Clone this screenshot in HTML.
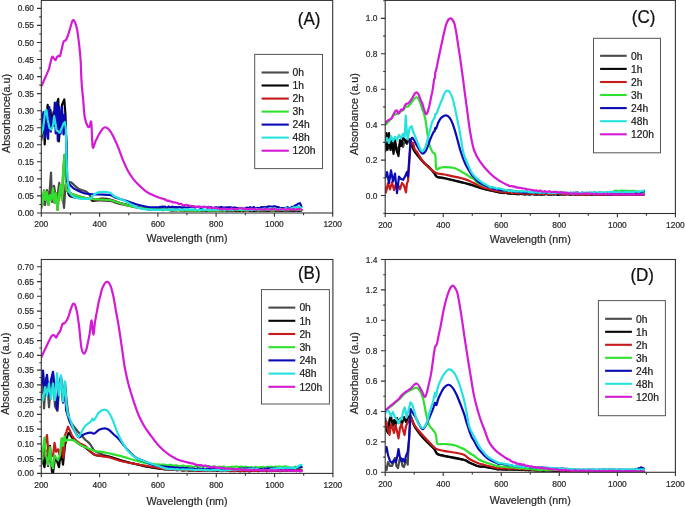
<!DOCTYPE html>
<html><head><meta charset="utf-8"><style>
html,body{margin:0;padding:0;background:#fff;width:685px;height:507px;overflow:hidden}
svg{display:block;filter:blur(0.3px)}
text{font-family:"Liberation Sans",sans-serif;stroke-width:0.22px}
</style></head><body>
<svg width="685" height="507" viewBox="0 0 685 507">
<rect width="685" height="507" fill="#fff"/>
<clipPath id="clipA"><rect x="41.3" y="0.4" width="291.4" height="212.6"/></clipPath>
<g clip-path="url(#clipA)" fill="none" stroke-width="2.2" stroke-linejoin="round" stroke-linecap="round">
<path d="M41.3,208.0 L43.0,200.0 L45.0,205.0 L47.0,190.0 L49.0,200.0 L51.0,172.5 L52.0,202.0 L53.0,190.0 L54.0,185.8 L55.5,195.0 L57.0,200.0 L59.2,182.8 L60.5,195.0 L62.0,190.0 L64.0,208.0 L65.5,185.0 L67.0,181.0" stroke="#4a4a4a"/>
<path d="M67.0,181.0 C67.3,181.2 68.2,181.7 69.0,182.0 C69.8,182.3 70.2,181.7 71.8,182.8 C73.4,183.9 75.8,187.1 78.4,188.7 C81.0,190.3 84.8,190.5 87.3,192.4 C89.8,194.3 91.1,198.7 93.2,200.0 C95.3,201.3 97.2,200.3 100.0,200.5 C102.8,200.7 106.7,200.4 110.0,201.0 C113.3,201.6 116.7,203.2 120.0,204.0 C123.3,204.8 125.0,205.2 130.0,206.0 C135.0,206.8 146.7,208.5 150.0,209.0" stroke="#4a4a4a"/>
<path d="M150.0,208.8 L151.2,208.7 L152.4,209.2 L153.6,208.8 L154.8,209.2 L156.0,209.1 L157.2,208.9 L158.4,209.4 L159.6,209.0 L160.8,209.4 L162.0,209.1 L163.2,209.2 L164.4,209.6 L165.6,210.0 L166.8,209.4 L168.0,209.5 L169.2,209.9 L170.4,210.3 L171.6,210.0 L172.8,209.9 L174.0,210.5 L175.2,209.7 L176.4,210.5 L177.6,210.0 L178.8,209.9 L180.0,210.0 L181.2,210.1 L182.4,210.6 L183.6,210.0 L184.8,210.4 L186.1,210.5 L187.3,210.2 L188.5,210.4 L189.7,210.0 L190.9,210.0 L192.1,210.1 L193.3,210.5 L194.5,210.3 L195.8,210.2 L197.0,210.5 L198.2,210.3 L199.4,210.2 L200.6,210.7 L201.8,210.6 L203.0,210.2 L204.2,210.5 L205.5,210.4 L206.7,210.8 L207.9,210.6 L209.1,210.3 L210.3,210.9 L211.5,210.1 L212.7,210.4 L213.9,210.7 L215.2,210.2 L216.4,210.5 L217.6,210.1 L218.8,210.6 L220.0,210.7 L221.2,210.6 L222.4,210.8 L223.6,210.3 L224.8,210.7 L226.1,210.6 L227.3,210.6 L228.5,210.5 L229.7,210.8 L230.9,210.9 L232.1,210.5 L233.3,210.6 L234.5,210.1 L235.8,210.7 L237.0,210.6 L238.2,210.9 L239.4,210.8 L240.6,210.3 L241.8,210.4 L243.0,210.7 L244.2,210.1 L245.5,210.5 L246.7,210.2 L247.9,210.2 L249.1,210.1 L250.3,210.7 L251.5,210.2 L252.7,210.3 L253.9,210.4 L255.2,210.8 L256.4,210.1 L257.6,210.5 L258.8,210.5 L260.0,210.8 L261.2,210.8 L262.4,210.8 L263.7,210.3 L264.9,210.4 L266.1,210.4 L267.3,210.8 L268.5,210.9 L269.7,210.2 L271.0,210.2 L272.2,210.3 L273.4,210.3 L274.6,210.5 L275.8,210.6 L277.0,210.3 L278.3,210.1 L279.5,210.4 L280.7,210.4 L281.9,210.6 L283.1,210.9 L284.4,210.7 L285.6,210.5 L286.8,210.6 L288.0,210.7 L289.2,210.1 L290.4,210.9 L291.7,210.8 L292.9,210.8 L294.1,210.8 L295.3,210.4 L296.5,210.4 L297.7,210.1 L299.0,210.6 L300.2,210.1 L301.4,210.5" stroke="#4a4a4a"/>
<path d="M41.3,140.0 L42.5,130.0 L44.0,115.0 L44.7,144.4 L46.0,120.0 L47.7,104.8 L49.0,120.0 L50.5,110.0 L51.8,127.9 L53.5,112.0 L55.0,125.0 L56.5,105.0 L58.3,98.9 L58.9,141.5 L60.5,120.0 L62.0,105.0 L64.3,99.5 L65.5,115.0 L66.5,150.0 L67.5,190.0" stroke="#050505"/>
<path d="M67.5,190.0 C67.9,191.0 67.9,194.7 70.0,196.0 C72.1,197.3 76.7,197.5 80.0,198.0 C83.3,198.5 87.8,198.5 90.0,199.0 C92.2,199.5 91.3,201.0 93.0,201.0 C94.7,201.0 97.2,199.1 100.0,198.8 C102.8,198.6 106.7,198.8 110.0,199.5 C113.3,200.2 116.7,202.0 120.0,203.0 C123.3,204.0 126.7,204.7 130.0,205.5 C133.3,206.3 136.7,207.3 140.0,208.0 C143.3,208.7 148.3,209.2 150.0,209.5" stroke="#050505"/>
<path d="M150.0,209.1 L151.2,209.3 L152.5,209.3 L153.8,209.4 L155.0,209.2 L156.2,209.2 L157.5,209.4 L158.8,209.4 L160.0,209.6 L161.2,209.4 L162.5,210.1 L163.8,209.9 L165.0,209.6 L166.2,209.7 L167.5,209.8 L168.8,209.8 L170.0,209.7 L171.2,210.3 L172.4,210.5 L173.6,210.0 L174.8,210.1 L176.0,209.7 L177.2,209.8 L178.4,210.0 L179.6,209.9 L180.8,210.5 L182.0,209.9 L183.2,209.8 L184.4,210.6 L185.6,210.3 L186.8,210.0 L188.0,210.3 L189.2,209.9 L190.4,210.4 L191.6,210.8 L192.8,210.7 L194.0,210.6 L195.2,210.2 L196.4,210.3 L197.6,210.2 L198.8,210.7 L200.0,210.5 L201.2,210.8 L202.4,210.3 L203.7,210.3 L204.9,210.8 L206.1,210.9 L207.3,210.8 L208.5,210.8 L209.8,210.8 L211.0,210.7 L212.2,210.3 L213.4,210.5 L214.6,210.4 L215.9,210.1 L217.1,210.1 L218.3,210.3 L219.5,210.3 L220.7,210.7 L222.0,210.9 L223.2,210.5 L224.4,210.9 L225.6,210.9 L226.8,210.9 L228.0,210.4 L229.3,210.2 L230.5,210.3 L231.7,210.2 L232.9,210.2 L234.1,210.6 L235.4,210.9 L236.6,210.8 L237.8,210.5 L239.0,210.6 L240.2,210.8 L241.5,210.1 L242.7,210.6 L243.9,210.9 L245.1,210.8 L246.3,210.7 L247.6,210.5 L248.8,210.2 L250.0,210.8 L251.2,210.3 L252.4,210.8 L253.7,210.9 L254.9,210.4 L256.1,210.4 L257.3,210.9 L258.6,210.7 L259.8,210.2 L261.0,210.2 L262.2,210.2 L263.5,210.9 L264.7,210.8 L265.9,210.2 L267.1,210.8 L268.4,210.9 L269.6,210.6 L270.8,210.4 L272.0,210.5 L273.3,210.2 L274.5,210.1 L275.7,210.9 L276.9,210.6 L278.1,210.5 L279.4,210.9 L280.6,210.4 L281.8,210.8 L283.0,210.8 L284.3,210.2 L285.5,210.3 L286.7,210.3 L287.9,210.3 L289.2,210.6 L290.4,210.3 L291.6,210.4 L292.8,210.2 L294.1,210.9 L295.3,210.4 L296.5,210.5 L297.7,210.6 L299.0,210.9 L300.2,210.4 L301.4,210.5" stroke="#050505"/>
<path d="M41.3,195.0 L42.5,205.0 L44.0,190.0 L45.5,200.0 L47.0,192.0 L48.5,205.0 L50.0,195.0 L51.5,200.0 L53.0,188.0 L54.5,203.0 L56.0,193.0 L57.5,210.0 L59.0,195.0 L60.5,185.0 L62.0,200.0 L63.0,175.0 L64.4,154.8 L65.5,175.0 L66.5,190.0" stroke="#c81a1a"/>
<path d="M66.5,190.0 C67.1,190.5 68.6,192.2 70.0,193.0 C71.4,193.8 71.7,194.0 75.0,195.0 C78.3,196.0 85.8,198.2 90.0,199.0 C94.2,199.8 96.7,199.3 100.0,199.5 C103.3,199.7 106.7,199.4 110.0,200.0 C113.3,200.6 116.7,202.0 120.0,203.0 C123.3,204.0 126.7,205.2 130.0,206.0 C133.3,206.8 136.7,207.5 140.0,208.0 C143.3,208.5 148.3,208.8 150.0,209.0" stroke="#c81a1a"/>
<path d="M150.0,209.4 L151.2,209.1 L152.5,209.2 L153.8,209.2 L155.0,208.8 L156.2,209.3 L157.5,209.1 L158.8,209.0 L160.0,209.8 L161.2,209.3 L162.5,209.6 L163.8,209.9 L165.0,209.8 L166.2,209.7 L167.5,209.9 L168.8,210.0 L170.0,210.3 L171.2,209.7 L172.4,210.1 L173.6,209.8 L174.8,209.9 L176.0,210.3 L177.2,210.1 L178.4,210.2 L179.6,210.4 L180.8,210.6 L182.0,210.1 L183.2,210.3 L184.4,210.2 L185.6,210.3 L186.8,210.5 L188.0,210.3 L189.2,210.3 L190.4,210.3 L191.6,210.8 L192.8,210.6 L194.0,210.7 L195.2,210.8 L196.4,210.2 L197.6,210.5 L198.8,210.9 L200.0,210.8 L201.2,210.2 L202.4,210.1 L203.7,210.4 L204.9,210.1 L206.1,210.2 L207.3,210.0 L208.5,210.6 L209.8,210.7 L211.0,210.7 L212.2,210.1 L213.4,210.6 L214.6,210.5 L215.9,210.0 L217.1,210.7 L218.3,210.7 L219.5,210.1 L220.7,210.7 L222.0,210.2 L223.2,210.3 L224.4,210.7 L225.6,210.5 L226.8,209.9 L228.0,210.2 L229.3,210.2 L230.5,210.1 L231.7,209.9 L232.9,210.0 L234.1,210.4 L235.4,209.7 L236.6,210.2 L237.8,210.1 L239.0,209.7 L240.2,209.9 L241.5,210.2 L242.7,210.1 L243.9,209.7 L245.1,210.5 L246.3,210.3 L247.6,210.4 L248.8,209.7 L250.0,209.8 L251.2,209.6 L252.4,210.2 L253.7,209.8 L254.9,209.6 L256.1,209.9 L257.3,210.3 L258.6,210.3 L259.8,209.7 L261.0,209.6 L262.2,210.3 L263.5,210.0 L264.7,210.1 L265.9,209.6 L267.1,209.5 L268.4,210.1 L269.6,209.9 L270.8,209.5 L272.0,210.3 L273.3,210.0 L274.5,210.2 L275.7,209.5 L276.9,210.2 L278.1,209.5 L279.4,210.2 L280.6,209.8 L281.8,209.7 L283.0,209.9 L284.3,210.3 L285.5,209.7 L286.7,209.5 L287.9,209.9 L289.2,209.6 L290.4,209.5 L291.6,209.5 L292.8,209.4 L294.1,209.6 L295.3,209.7 L296.5,209.6 L297.7,210.0 L299.0,209.6 L300.2,209.8 L301.4,209.8" stroke="#c81a1a"/>
<path d="M41.3,195.0 L42.5,205.0 L44.0,190.0 L45.5,200.0 L47.0,192.0 L48.5,205.0 L50.0,195.0 L51.5,200.0 L53.0,188.0 L54.5,203.0 L56.0,193.0 L57.5,210.0 L59.0,195.0 L60.5,185.0 L62.0,200.0 L63.0,175.0 L64.4,154.8 L65.5,175.0 L66.5,190.0" stroke="#2fe02f"/>
<path d="M66.5,190.0 C67.1,190.5 68.6,192.2 70.0,193.0 C71.4,193.8 71.7,194.0 75.0,195.0 C78.3,196.0 85.8,198.2 90.0,199.0 C94.2,199.8 96.7,199.3 100.0,199.5 C103.3,199.7 106.7,199.4 110.0,200.0 C113.3,200.6 116.7,202.0 120.0,203.0 C123.3,204.0 126.7,205.2 130.0,206.0 C133.3,206.8 136.7,207.5 140.0,208.0 C143.3,208.5 148.3,208.8 150.0,209.0" stroke="#2fe02f"/>
<path d="M150.0,209.4 L151.2,209.1 L152.5,209.2 L153.8,209.2 L155.0,208.8 L156.2,209.3 L157.5,209.1 L158.8,209.0 L160.0,209.8 L161.2,209.3 L162.5,209.6 L163.8,209.9 L165.0,209.8 L166.2,209.7 L167.5,209.9 L168.8,210.0 L170.0,210.3 L171.2,209.7 L172.4,210.1 L173.6,209.8 L174.8,209.9 L176.0,210.3 L177.2,210.1 L178.4,210.2 L179.6,210.4 L180.8,210.6 L182.0,210.1 L183.2,210.3 L184.4,210.2 L185.6,210.3 L186.8,210.5 L188.0,210.3 L189.2,210.3 L190.4,210.3 L191.6,210.8 L192.8,210.6 L194.0,210.7 L195.2,210.8 L196.4,210.2 L197.6,210.5 L198.8,210.9 L200.0,210.8 L201.2,210.2 L202.4,210.1 L203.7,210.4 L204.9,210.1 L206.1,210.2 L207.3,210.0 L208.5,210.6 L209.8,210.7 L211.0,210.7 L212.2,210.1 L213.4,210.6 L214.6,210.5 L215.9,210.0 L217.1,210.7 L218.3,210.7 L219.5,210.1 L220.7,210.7 L222.0,210.2 L223.2,210.3 L224.4,210.7 L225.6,210.5 L226.8,209.9 L228.0,210.2 L229.3,210.2 L230.5,210.1 L231.7,209.9 L232.9,210.0 L234.1,210.4 L235.4,209.7 L236.6,210.2 L237.8,210.1 L239.0,209.7 L240.2,209.9 L241.5,210.2 L242.7,210.1 L243.9,209.7 L245.1,210.5 L246.3,210.3 L247.6,210.4 L248.8,209.7 L250.0,209.8 L251.2,209.6 L252.4,210.2 L253.7,209.8 L254.9,209.6 L256.1,209.9 L257.3,210.3 L258.6,210.3 L259.8,209.7 L261.0,209.6 L262.2,210.3 L263.5,210.0 L264.7,210.1 L265.9,209.6 L267.1,209.5 L268.4,210.1 L269.6,209.9 L270.8,209.5 L272.0,210.3 L273.3,210.0 L274.5,210.2 L275.7,209.5 L276.9,210.2 L278.1,209.5 L279.4,210.2 L280.6,209.8 L281.8,209.7 L283.0,209.9 L284.3,210.3 L285.5,209.7 L286.7,209.5 L287.9,209.9 L289.2,209.6 L290.4,209.5 L291.6,209.5 L292.8,209.4 L294.1,209.6 L295.3,209.7 L296.5,209.6 L297.7,210.0 L299.0,209.6 L300.2,209.8 L301.4,209.8" stroke="#2fe02f"/>
<path d="M41.3,111.4 L42.6,129.0 L43.9,112.0 L45.3,137.8 L46.6,113.5 L48.1,138.9 L49.3,107.1 L50.8,131.7 L51.8,117.7 L53.4,125.9 L54.8,102.7 L55.7,133.5 L56.7,103.2 L57.8,140.6 L59.1,106.7 L60.6,133.6 L62.0,107.6 L63.5,134.5 L64.6,114.6 L66.3,140.0 L67.0,181.4" stroke="#0a0ab4"/>
<path d="M67.0,181.4 C68.2,182.6 71.1,186.7 74.0,188.7 C76.9,190.7 81.6,192.3 84.3,193.2 C87.0,194.1 87.5,193.8 90.0,194.0 C92.5,194.2 95.7,194.3 99.0,194.5 C102.3,194.7 107.3,194.5 110.0,195.0 C112.7,195.5 112.5,196.6 115.0,197.5 C117.5,198.4 121.3,199.3 125.0,200.5 C128.7,201.7 133.2,203.4 137.0,204.5 C140.8,205.6 144.2,206.5 148.0,207.0 C151.8,207.5 158.0,207.3 160.0,207.4" stroke="#0a0ab4"/>
<path d="M160.0,206.9 L161.2,207.1 L162.5,206.6 L163.8,206.9 L165.0,206.5 L166.2,207.5 L167.5,207.2 L168.8,206.6 L170.0,207.0 L171.2,207.6 L172.5,206.5 L173.8,207.5 L175.0,207.0 L176.2,207.1 L177.5,207.6 L178.8,207.0 L180.0,207.1 L181.2,207.4 L182.5,207.8 L183.8,207.0 L185.0,207.7 L186.2,207.5 L187.5,207.4 L188.8,207.1 L190.0,207.0 L191.2,206.6 L192.5,206.7 L193.8,206.7 L195.0,207.6 L196.2,206.9 L197.5,206.8 L198.8,206.7 L200.0,207.8 L201.2,207.8 L202.5,207.6 L203.8,207.0 L205.0,207.0 L206.2,207.1 L207.5,207.3 L208.8,206.9 L210.0,207.4 L211.2,207.1 L212.5,208.1 L213.8,208.1 L215.0,207.6 L216.2,207.2 L217.5,208.2 L218.8,207.3 L220.0,207.4 L221.2,206.9 L222.5,207.5 L223.8,207.6 L225.0,207.7 L226.2,207.3 L227.5,207.8 L228.8,207.1 L230.0,207.5 L231.2,207.3 L232.5,207.9 L233.8,207.5 L235.0,207.5 L236.2,208.0 L237.5,208.0 L238.8,208.6 L240.0,208.6 L241.2,208.8 L242.5,208.6 L243.8,208.5 L245.0,208.6 L246.2,207.8 L247.5,207.6 L248.8,208.4 L250.0,207.1 L251.2,207.9 L252.5,207.9 L253.8,207.0 L255.0,208.2 L256.2,208.3 L257.5,207.9 L258.8,208.1 L260.0,208.2 L261.2,207.1 L262.5,207.4 L263.8,207.1 L265.0,207.4 L266.2,207.1 L267.5,206.9 L268.8,206.3 L270.0,206.5 L271.2,206.5 L272.5,206.8 L273.8,206.4 L275.0,206.3 L276.2,206.7 L277.5,207.3 L278.8,207.2 L280.0,208.5 L281.2,208.1 L282.5,208.1 L283.8,208.1 L285.0,208.2 L286.2,207.9 L287.5,207.2 L288.8,208.2 L290.0,208.1 L291.2,207.4 L292.5,206.9 L293.8,206.7 L295.0,205.4 L296.5,205.3 L298.0,203.7 L300.0,203.2 L301.4,206.5" stroke="#0a0ab4"/>
<path d="M41.3,135.0 L43.0,129.0 L45.3,110.8 L46.5,110.0 L47.7,119.7 L49.5,128.0 L51.3,129.7 L53.0,125.6 L54.2,116.1 L55.4,123.2 L56.6,130.3 L58.4,131.5 L59.6,132.7 L61.4,129.1 L63.7,123.2 L64.9,122.0 L65.9,129.1 L66.3,150.0" stroke="#26e2de"/>
<path d="M66.3,150.0 C66.4,153.3 66.7,164.5 67.0,170.0 C67.3,175.5 67.3,178.9 68.0,183.0 C68.7,187.1 69.3,192.1 71.0,194.7 C72.7,197.2 75.2,197.7 78.4,198.3 C81.6,198.9 87.7,198.8 90.2,198.3 C92.7,197.8 92.0,196.1 93.5,195.1 C95.0,194.1 96.6,192.6 99.3,192.2 C102.0,191.8 107.4,192.1 109.9,192.8 C112.4,193.5 112.0,194.9 114.5,196.3 C117.0,197.7 121.3,199.2 125.0,201.0 C128.7,202.8 132.8,206.0 136.7,207.4 C140.6,208.8 142.8,209.3 148.4,209.7 C154.0,210.0 166.4,209.5 170.0,209.5" stroke="#26e2de"/>
<path d="M170.0,209.3 L171.2,209.7 L172.4,209.2 L173.6,209.8 L174.8,210.0 L176.0,209.6 L177.2,209.5 L178.4,209.6 L179.6,209.8 L180.8,209.9 L182.0,209.7 L183.2,209.8 L184.4,209.2 L185.6,209.3 L186.8,209.4 L188.0,209.9 L189.2,209.5 L190.4,209.8 L191.6,209.2 L192.8,209.3 L194.0,209.5 L195.2,209.9 L196.4,210.0 L197.6,210.0 L198.8,209.6 L200.0,209.8 L201.2,209.8 L202.4,209.8 L203.7,209.4 L204.9,210.2 L206.1,209.5 L207.3,210.2 L208.5,210.2 L209.8,209.3 L211.0,209.7 L212.2,210.0 L213.4,210.2 L214.6,209.7 L215.9,209.5 L217.1,209.4 L218.3,210.1 L219.5,209.4 L220.7,209.8 L222.0,209.3 L223.2,209.7 L224.4,210.1 L225.6,209.3 L226.8,210.0 L228.0,209.6 L229.3,210.0 L230.5,209.8 L231.7,209.3 L232.9,210.0 L234.1,209.6 L235.4,209.1 L236.6,209.1 L237.8,209.6 L239.0,209.5 L240.2,209.4 L241.5,209.2 L242.7,209.4 L243.9,209.4 L245.1,209.9 L246.3,209.0 L247.6,209.8 L248.8,209.8 L250.0,209.1 L251.2,209.9 L252.4,209.7 L253.6,209.8 L254.8,209.2 L256.1,209.2 L257.3,209.2 L258.5,209.8 L259.7,209.3 L260.9,209.1 L262.1,209.1 L263.3,208.9 L264.5,208.7 L265.8,208.7 L267.0,209.4 L268.2,208.8 L269.4,209.5 L270.6,208.7 L271.8,208.7 L273.0,208.9 L274.2,208.6 L275.5,208.7 L276.7,209.3 L277.9,209.2 L279.1,209.1 L280.3,208.9 L281.5,209.1 L282.7,209.1 L283.9,208.7 L285.2,208.8 L286.4,208.1 L287.6,208.8 L288.8,208.5 L290.0,208.8 L291.3,208.4 L292.7,207.8 L294.0,207.3 L295.3,207.9 L296.7,206.9 L298.0,207.0 L299.7,207.1 L301.4,207.5" stroke="#26e2de"/>
<path d="M41.6,85.8 C42.2,84.5 43.8,80.8 45.0,78.0 C46.2,75.2 47.8,72.4 48.9,69.0 C50.0,65.6 51.0,59.4 51.8,57.5 C52.6,55.6 52.9,57.3 53.5,57.8 C54.1,58.2 54.8,60.3 55.4,60.2 C56.0,60.1 56.5,57.7 57.0,57.0 C57.5,56.3 58.2,56.0 58.7,55.8 C59.2,55.6 59.5,57.0 60.0,56.0 C60.5,55.0 60.9,52.4 61.5,50.0 C62.1,47.6 63.0,43.0 63.7,41.4 C64.4,39.8 65.0,41.0 65.6,40.4 C66.1,39.8 66.5,39.1 67.0,38.0 C67.5,36.9 68.0,35.3 68.6,33.5 C69.2,31.7 69.8,29.1 70.5,27.0 C71.2,24.9 71.8,21.6 72.5,20.7 C73.2,19.8 73.8,19.9 74.5,21.3 C75.2,22.7 76.2,25.3 77.0,29.0 C77.8,32.7 78.4,38.2 79.0,43.4 C79.6,48.6 80.2,54.1 80.6,60.0 C81.0,65.9 81.1,74.0 81.4,79.0 C81.7,84.0 81.9,86.5 82.2,90.0 C82.5,93.5 82.8,95.1 83.2,99.7 C83.6,104.3 84.0,113.0 84.8,117.5 C85.6,122.0 87.0,124.9 87.8,126.4 C88.6,127.9 89.1,127.1 89.7,126.4 C90.3,125.7 90.8,119.0 91.3,122.4 C91.8,125.8 92.0,143.9 92.7,147.0 C93.4,150.1 94.4,143.4 95.6,141.1 C96.8,138.8 98.4,135.3 99.6,133.3 C100.8,131.3 101.5,130.0 102.5,129.0 C103.5,128.0 104.2,126.9 105.5,127.3 C106.8,127.7 108.4,128.3 110.4,131.3 C112.4,134.3 115.2,140.2 117.3,145.1 C119.4,150.0 121.5,156.6 123.3,160.9 C125.1,165.2 126.4,168.1 128.0,171.0 C129.6,173.9 131.4,176.5 133.0,178.6 C134.6,180.7 135.3,181.6 137.5,183.8 C139.7,186.0 143.4,189.7 146.3,191.7 C149.2,193.7 151.9,194.7 155.0,196.0 C158.1,197.3 163.3,198.9 165.0,199.5" stroke="#d41ad4"/>
<path d="M165.0,199.3 L166.3,200.2 L167.5,201.0 L168.8,200.6 L170.1,201.5 L171.3,201.5 L172.6,202.3 L173.8,202.4 L175.1,202.4 L176.3,202.7 L177.6,203.0 L178.8,204.1 L180.1,203.9 L181.3,203.9 L182.5,205.0 L183.8,205.4 L185.0,205.0 L186.3,204.9 L187.5,205.3 L188.8,205.4 L190.0,206.0 L191.3,205.8 L192.5,206.1 L193.8,206.2 L195.0,206.6 L196.3,207.1 L197.5,207.0 L198.8,206.7 L200.1,206.8 L201.3,207.0 L202.6,206.9 L203.8,206.9 L205.1,206.7 L206.3,207.0 L207.6,208.0 L208.8,207.1 L210.1,207.7 L211.3,207.9 L212.6,208.3 L213.8,207.7 L215.1,207.9 L216.3,208.0 L217.5,208.3 L218.8,208.5 L220.0,209.2 L221.3,209.2 L222.5,209.4 L223.8,208.5 L225.0,208.6 L226.2,209.4 L227.5,209.6 L228.8,209.0 L230.0,209.1 L231.2,208.3 L232.5,208.7 L233.8,209.3 L235.0,209.1 L236.2,209.1 L237.5,209.2 L238.8,208.3 L240.0,208.0 L241.2,208.1 L242.5,208.7 L243.8,208.9 L245.0,209.3 L246.2,209.1 L247.5,209.1 L248.8,209.3 L250.0,208.9 L251.2,209.1 L252.5,208.6 L253.8,209.5 L255.0,208.9 L256.2,209.8 L257.5,209.5 L258.8,209.2 L260.0,209.1 L261.2,209.2 L262.5,209.6 L263.8,209.7 L265.0,209.0 L266.2,208.9 L267.5,209.5 L268.8,209.5 L270.0,209.3 L271.2,209.1 L272.5,209.5 L273.8,208.8 L275.0,209.1 L276.2,209.3 L277.5,209.9 L278.8,209.5 L280.0,209.8 L281.3,209.3 L282.5,209.0 L283.8,209.0 L285.0,209.9 L286.3,209.6 L287.6,209.1 L288.8,208.8 L290.1,209.4 L291.3,209.6 L292.6,209.3 L293.8,209.1 L295.1,209.6 L296.4,210.0 L297.6,209.1 L298.9,208.9 L300.1,209.3 L301.4,209.5" stroke="#d41ad4"/>
</g>
<rect x="41.3" y="0.4" width="291.4" height="212.6" fill="none" stroke="#333" stroke-width="1.1"/>
<text x="34.0" y="216.0" text-anchor="end" font-size="8.4" fill="#2a2a2a" stroke="#2a2a2a">0.00</text>
<text x="34.0" y="198.9" text-anchor="end" font-size="8.4" fill="#2a2a2a" stroke="#2a2a2a">0.05</text>
<text x="34.0" y="181.9" text-anchor="end" font-size="8.4" fill="#2a2a2a" stroke="#2a2a2a">0.10</text>
<text x="34.0" y="164.8" text-anchor="end" font-size="8.4" fill="#2a2a2a" stroke="#2a2a2a">0.15</text>
<text x="34.0" y="147.8" text-anchor="end" font-size="8.4" fill="#2a2a2a" stroke="#2a2a2a">0.20</text>
<text x="34.0" y="130.8" text-anchor="end" font-size="8.4" fill="#2a2a2a" stroke="#2a2a2a">0.25</text>
<text x="34.0" y="113.7" text-anchor="end" font-size="8.4" fill="#2a2a2a" stroke="#2a2a2a">0.30</text>
<text x="34.0" y="96.6" text-anchor="end" font-size="8.4" fill="#2a2a2a" stroke="#2a2a2a">0.35</text>
<text x="34.0" y="79.6" text-anchor="end" font-size="8.4" fill="#2a2a2a" stroke="#2a2a2a">0.40</text>
<text x="34.0" y="62.5" text-anchor="end" font-size="8.4" fill="#2a2a2a" stroke="#2a2a2a">0.45</text>
<text x="34.0" y="45.5" text-anchor="end" font-size="8.4" fill="#2a2a2a" stroke="#2a2a2a">0.50</text>
<text x="34.0" y="28.4" text-anchor="end" font-size="8.4" fill="#2a2a2a" stroke="#2a2a2a">0.55</text>
<text x="34.0" y="11.4" text-anchor="end" font-size="8.4" fill="#2a2a2a" stroke="#2a2a2a">0.60</text>
<text x="41.3" y="227.2" text-anchor="middle" font-size="8.4" fill="#2a2a2a" stroke="#2a2a2a">200</text>
<text x="99.6" y="227.2" text-anchor="middle" font-size="8.4" fill="#2a2a2a" stroke="#2a2a2a">400</text>
<text x="157.9" y="227.2" text-anchor="middle" font-size="8.4" fill="#2a2a2a" stroke="#2a2a2a">600</text>
<text x="216.1" y="227.2" text-anchor="middle" font-size="8.4" fill="#2a2a2a" stroke="#2a2a2a">800</text>
<text x="274.4" y="227.2" text-anchor="middle" font-size="8.4" fill="#2a2a2a" stroke="#2a2a2a">1000</text>
<text x="332.7" y="227.2" text-anchor="middle" font-size="8.4" fill="#2a2a2a" stroke="#2a2a2a">1200</text>
<path d="M37.0,213.0 H41.3 M37.0,195.9 H41.3 M37.0,178.9 H41.3 M37.0,161.8 H41.3 M37.0,144.8 H41.3 M37.0,127.8 H41.3 M37.0,110.7 H41.3 M37.0,93.6 H41.3 M37.0,76.6 H41.3 M37.0,59.5 H41.3 M37.0,42.5 H41.3 M37.0,25.4 H41.3 M37.0,8.4 H41.3 M39.3,204.5 H41.3 M39.3,187.4 H41.3 M39.3,170.4 H41.3 M39.3,153.3 H41.3 M39.3,136.3 H41.3 M39.3,119.2 H41.3 M39.3,102.2 H41.3 M39.3,85.1 H41.3 M39.3,68.1 H41.3 M39.3,51.0 H41.3 M39.3,34.0 H41.3 M39.3,16.9 H41.3 M41.3,213.0 V216.8 M70.4,213.0 V215.3 M99.6,213.0 V216.8 M128.7,213.0 V215.3 M157.9,213.0 V216.8 M187.0,213.0 V215.3 M216.1,213.0 V216.8 M245.3,213.0 V215.3 M274.4,213.0 V216.8 M303.6,213.0 V215.3 M332.7,213.0 V216.8" stroke="#333" stroke-width="1.1" fill="none"/>
<text x="187.0" y="242.0" text-anchor="middle" font-size="10.7" fill="#2a2a2a" stroke="#2a2a2a">Wavelength (nm)</text>
<text transform="translate(9.6,113.5) rotate(-90)" text-anchor="middle" font-size="10.7" fill="#2a2a2a" stroke="#2a2a2a">Absorbance(a.u)</text>
<text transform="translate(297.8,24.9) scale(1,1.04)" font-size="17" fill="#111" stroke="#111">(A)</text>
<rect x="254.7" y="54.4" width="67.8" height="114.2" fill="#fff" stroke="#555" stroke-width="1"/>
<path d="M261.6,72.5 H288.8" stroke="#4a4a4a" stroke-width="2.1"/>
<text x="292.5" y="76.2" font-size="10.3" fill="#1a1a1a" stroke="#1a1a1a">0h</text>
<path d="M261.6,85.5 H288.8" stroke="#050505" stroke-width="2.1"/>
<text x="292.5" y="89.2" font-size="10.3" fill="#1a1a1a" stroke="#1a1a1a">1h</text>
<path d="M261.6,98.6 H288.8" stroke="#c81a1a" stroke-width="2.1"/>
<text x="292.5" y="102.3" font-size="10.3" fill="#1a1a1a" stroke="#1a1a1a">2h</text>
<path d="M261.6,111.6 H288.8" stroke="#2fe02f" stroke-width="2.1"/>
<text x="292.5" y="115.3" font-size="10.3" fill="#1a1a1a" stroke="#1a1a1a">3h</text>
<path d="M261.6,124.6 H288.8" stroke="#0a0ab4" stroke-width="2.1"/>
<text x="292.5" y="128.3" font-size="10.3" fill="#1a1a1a" stroke="#1a1a1a">24h</text>
<path d="M261.6,137.6 H288.8" stroke="#26e2de" stroke-width="2.1"/>
<text x="292.5" y="141.3" font-size="10.3" fill="#1a1a1a" stroke="#1a1a1a">48h</text>
<path d="M261.6,150.7 H288.8" stroke="#d41ad4" stroke-width="2.1"/>
<text x="292.5" y="154.4" font-size="10.3" fill="#1a1a1a" stroke="#1a1a1a">120h</text>
<clipPath id="clipC"><rect x="385.2" y="0.4" width="290.2" height="213.1"/></clipPath>
<g clip-path="url(#clipC)" fill="none" stroke-width="2.2" stroke-linejoin="round" stroke-linecap="round">
<path d="M385.2,146.0 L387.0,138.0 L389.0,148.0 L391.0,139.0 L393.0,150.0 L395.0,142.0 L397.0,152.0 L399.0,146.0 L401.0,141.0 L403.0,147.0 L405.0,140.0 L407.0,144.0 L409.0,140.0" stroke="#4a4a4a"/>
<path d="M409.0,140.0 C409.3,140.5 410.1,141.1 411.0,143.0 C411.9,144.9 413.1,148.9 414.6,151.5 C416.1,154.1 418.4,156.5 420.0,158.5 C421.6,160.5 422.7,161.8 424.4,163.5 C426.1,165.2 428.4,166.8 430.0,168.5 C431.6,170.2 433.1,172.1 434.3,173.5 C435.5,174.9 435.0,176.1 437.3,177.0 C439.6,177.9 443.7,178.2 448.1,179.2 C452.5,180.2 459.6,181.9 463.9,183.0 C468.2,184.1 470.5,185.0 473.8,186.0 C477.1,187.0 479.3,187.9 483.6,189.0 C487.9,190.1 496.9,191.9 499.5,192.5" stroke="#4a4a4a"/>
<path d="M499.5,192.4 L500.7,192.8 L502.0,192.4 L503.2,193.1 L504.4,193.1 L505.7,193.0 L506.9,192.9 L508.1,193.7 L509.4,193.2 L510.6,193.7 L511.8,193.3 L513.0,193.4 L514.3,194.0 L515.5,193.7 L516.7,194.4 L518.0,194.1 L519.2,193.9 L520.4,194.0 L521.7,194.1 L522.9,194.4 L524.1,194.6 L525.3,193.9 L526.6,194.1 L527.8,194.0 L529.0,194.7 L530.2,193.9 L531.5,193.9 L532.7,193.9 L533.9,194.2 L535.1,194.6 L536.4,194.6 L537.6,194.5 L538.8,194.7 L540.0,194.7 L541.2,194.2 L542.5,194.0 L543.7,194.7 L544.9,194.6 L546.1,193.9 L547.4,194.5 L548.6,194.2 L549.8,194.2 L551.1,194.2 L552.3,194.1 L553.5,193.9 L554.7,194.2 L556.0,194.3 L557.2,194.8 L558.4,194.1 L559.6,194.8 L560.9,194.1 L562.1,194.3 L563.3,194.7 L564.5,194.7 L565.8,194.4 L567.0,194.0 L568.2,194.4 L569.4,194.3 L570.6,194.8 L571.9,194.2 L573.1,194.4 L574.3,194.8 L575.5,194.1 L576.8,194.4 L578.0,194.8 L579.2,194.7 L580.4,194.1 L581.6,194.1 L582.8,194.1 L584.0,194.9 L585.2,194.3 L586.4,194.7 L587.6,194.9 L588.8,194.4 L590.0,194.3 L591.2,194.9 L592.4,194.6 L593.6,194.3 L594.8,194.7 L596.0,194.3 L597.2,194.3 L598.4,194.1 L599.6,194.7 L600.8,194.9 L602.0,194.6 L603.2,194.9 L604.4,194.1 L605.6,194.3 L606.8,194.5 L608.0,194.9 L609.2,194.9 L610.4,194.4 L611.6,194.3 L612.8,194.4 L614.0,194.5 L615.2,194.9 L616.4,194.2 L617.6,194.8 L618.8,194.7 L620.0,194.8 L621.2,194.7 L622.4,194.6 L623.6,194.3 L624.8,194.3 L626.0,194.4 L627.2,194.8 L628.4,194.1 L629.6,194.2 L630.8,194.7 L632.0,194.3 L633.2,194.1 L634.4,194.1 L635.6,194.5 L636.8,194.3 L638.0,194.9 L639.2,194.8 L640.4,194.9 L641.6,194.3 L642.8,194.1 L644.0,194.5" stroke="#4a4a4a"/>
<path d="M385.2,151.3 L386.5,133.0 L387.5,150.0 L389.0,133.0 L390.5,150.0 L392.0,141.0 L393.5,153.9 L395.0,140.0 L396.5,150.0 L398.5,156.2 L400.0,140.0 L401.5,146.0 L403.0,138.0 L404.7,139.4 L406.5,143.0 L408.0,138.0" stroke="#050505"/>
<path d="M408.0,138.0 C408.4,138.6 409.9,140.1 410.6,141.4 C411.3,142.7 411.3,144.3 412.0,146.0 C412.7,147.7 413.3,149.3 414.6,151.3 C415.9,153.3 418.4,156.0 420.0,158.0 C421.6,160.0 422.7,161.4 424.4,163.1 C426.1,164.8 428.4,166.3 430.0,168.0 C431.6,169.7 433.1,171.5 434.3,173.0 C435.5,174.5 435.7,176.1 437.3,176.9 C438.9,177.7 439.8,177.0 444.2,178.0 C448.6,179.0 459.0,181.6 463.9,182.8 C468.8,184.1 470.5,184.5 473.8,185.5 C477.1,186.5 479.3,187.7 483.6,188.8 C487.9,190.0 496.9,191.8 499.5,192.4" stroke="#050505"/>
<path d="M499.5,192.0 L500.7,192.5 L502.0,192.8 L503.2,192.7 L504.4,192.6 L505.7,192.9 L506.9,193.1 L508.1,193.3 L509.4,193.5 L510.6,193.7 L511.8,193.6 L513.0,193.2 L514.3,194.0 L515.5,193.6 L516.7,193.9 L518.0,193.9 L519.2,194.3 L520.4,193.8 L521.7,193.9 L522.9,193.9 L524.1,193.8 L525.3,194.5 L526.6,194.2 L527.8,194.0 L529.0,194.1 L530.2,194.6 L531.5,194.2 L532.7,193.9 L533.9,194.5 L535.1,194.3 L536.4,194.7 L537.6,193.9 L538.8,194.2 L540.0,194.5 L541.2,194.6 L542.5,194.6 L543.7,193.9 L544.9,194.1 L546.1,193.9 L547.4,194.0 L548.6,194.7 L549.8,194.4 L551.1,194.7 L552.3,194.2 L553.5,194.7 L554.7,194.3 L556.0,194.1 L557.2,194.6 L558.4,194.8 L559.6,194.0 L560.9,194.5 L562.1,194.5 L563.3,194.1 L564.5,194.3 L565.8,194.1 L567.0,194.2 L568.2,194.2 L569.4,194.5 L570.6,194.6 L571.9,194.2 L573.1,194.0 L574.3,194.3 L575.5,194.6 L576.8,194.2 L578.0,194.3 L579.2,194.2 L580.4,194.8 L581.6,194.5 L582.8,194.1 L584.0,194.1 L585.2,194.4 L586.4,194.5 L587.6,194.6 L588.8,194.1 L590.0,194.2 L591.2,194.7 L592.4,194.4 L593.6,194.3 L594.8,194.3 L596.0,194.9 L597.2,194.3 L598.4,194.6 L599.6,194.4 L600.8,194.4 L602.0,194.8 L603.2,194.9 L604.4,194.4 L605.6,194.2 L606.8,194.7 L608.0,194.2 L609.2,194.1 L610.4,194.9 L611.6,194.4 L612.8,194.8 L614.0,194.4 L615.2,194.8 L616.4,194.5 L617.6,194.2 L618.8,194.1 L620.0,194.5 L621.2,194.6 L622.4,194.9 L623.6,194.1 L624.8,194.6 L626.0,194.4 L627.2,194.5 L628.4,194.2 L629.6,194.3 L630.8,194.5 L632.0,194.9 L633.2,194.1 L634.4,194.5 L635.6,194.8 L636.8,194.9 L638.0,194.2 L639.2,194.2 L640.4,194.9 L641.6,194.9 L642.8,194.5 L644.0,194.5" stroke="#050505"/>
<path d="M385.2,187.7 L386.0,192.4 L388.0,183.0 L390.0,189.3 L392.0,182.2 L394.0,190.1 L396.0,183.8 L398.0,184.6 L400.0,189.3 L402.0,183.0 L404.0,185.4 L406.0,192.4 L407.0,183.0 L408.0,181.4 L409.5,160.0 L410.6,143.4" stroke="#c81a1a"/>
<path d="M410.6,143.4 C411.0,143.3 412.3,142.1 413.0,143.0 C413.7,143.9 413.9,147.5 414.6,149.0 C415.3,150.5 416.1,150.7 417.0,152.0 C417.9,153.3 418.8,155.2 420.0,157.0 C421.2,158.8 422.7,161.2 424.4,163.1 C426.1,165.0 428.0,166.8 430.0,168.5 C432.0,170.2 433.9,172.0 436.3,173.0 C438.7,174.0 439.6,173.5 444.2,174.5 C448.8,175.5 459.0,177.5 463.9,178.9 C468.8,180.3 470.5,181.5 473.8,183.0 C477.1,184.5 479.3,186.4 483.6,187.8 C487.9,189.2 496.9,190.9 499.5,191.5" stroke="#c81a1a"/>
<path d="M499.5,191.1 L500.7,192.0 L502.0,191.6 L503.2,192.2 L504.4,192.1 L505.7,192.4 L506.9,191.9 L508.1,192.6 L509.4,192.2 L510.6,192.5 L511.8,193.1 L513.0,193.2 L514.3,192.7 L515.5,192.9 L516.7,193.2 L518.0,193.4 L519.2,193.4 L520.4,193.2 L521.7,193.3 L522.9,193.8 L524.1,193.9 L525.3,193.2 L526.6,193.7 L527.8,193.8 L529.0,193.2 L530.2,194.0 L531.5,193.3 L532.7,193.8 L533.9,193.7 L535.1,193.8 L536.4,193.6 L537.6,193.7 L538.8,193.8 L540.0,193.7 L541.2,193.9 L542.5,193.8 L543.7,193.8 L544.9,193.4 L546.1,194.0 L547.4,193.9 L548.6,193.7 L549.8,194.2 L551.1,194.2 L552.3,193.9 L553.5,193.7 L554.7,194.0 L556.0,193.6 L557.2,193.7 L558.4,194.0 L559.6,193.7 L560.9,194.0 L562.1,194.1 L563.3,193.7 L564.5,194.2 L565.8,193.8 L567.0,194.4 L568.2,194.4 L569.4,194.2 L570.6,193.8 L571.9,194.2 L573.1,194.1 L574.3,194.7 L575.5,193.9 L576.8,194.6 L578.0,194.7 L579.2,194.5 L580.4,194.6 L581.6,194.0 L582.8,194.7 L584.0,194.3 L585.2,194.7 L586.4,194.7 L587.6,194.0 L588.8,194.6 L590.0,194.7 L591.2,193.9 L592.4,194.2 L593.6,194.5 L594.8,194.0 L596.0,194.7 L597.2,194.1 L598.4,194.6 L599.6,194.0 L600.8,194.3 L602.0,194.7 L603.2,194.0 L604.4,194.1 L605.6,194.3 L606.8,194.1 L608.0,193.9 L609.2,194.0 L610.4,194.0 L611.6,194.7 L612.8,194.5 L614.0,194.7 L615.2,194.0 L616.4,194.6 L617.6,194.0 L618.8,194.3 L620.0,194.4 L621.2,194.2 L622.4,194.6 L623.6,194.3 L624.8,194.4 L626.0,194.6 L627.2,193.9 L628.4,194.7 L629.6,194.4 L630.8,194.2 L632.0,194.6 L633.2,194.1 L634.4,194.7 L635.6,194.4 L636.8,194.2 L638.0,194.5 L639.2,194.2 L640.4,194.0 L641.6,194.5 L642.8,193.9 L644.0,194.3" stroke="#c81a1a"/>
<path d="M385.2,125.0 C386.0,124.2 388.6,121.6 390.0,120.0 C391.4,118.4 392.1,116.6 393.4,115.5 C394.7,114.4 396.6,114.2 397.8,113.5 C399.0,112.8 399.8,112.2 400.8,111.6 C401.8,110.9 402.9,110.4 403.7,109.6 C404.5,108.8 405.0,107.1 405.7,106.6 C406.4,106.1 407.3,107.1 408.1,106.6 C408.9,106.1 409.7,104.8 410.6,103.7 C411.5,102.6 412.6,100.8 413.6,99.7 C414.6,98.6 415.7,97.5 416.5,97.3 C417.3,97.1 417.8,97.6 418.5,98.7 C419.2,99.8 419.9,101.9 420.5,103.7 C421.1,105.5 421.9,108.1 422.4,109.6 C422.9,111.1 423.1,110.9 423.6,112.5 C424.1,114.1 424.8,116.6 425.3,119.0 C425.8,121.4 426.1,124.0 426.5,127.0 C426.9,130.0 427.5,134.0 428.0,137.0 C428.5,140.0 428.8,142.5 429.5,145.0 C430.2,147.5 431.5,150.3 432.5,152.0 C433.5,153.7 434.7,152.4 435.3,155.2 C435.9,157.9 435.5,166.4 436.3,168.5 C437.1,170.6 438.7,168.0 440.0,167.8 C441.3,167.6 441.9,167.1 444.2,167.1 C446.5,167.1 450.7,167.0 454.0,168.0 C457.3,169.0 461.2,171.5 463.9,173.0 C466.5,174.5 468.2,176.0 469.9,177.0 C471.5,178.0 472.2,177.8 473.8,178.9 C475.4,180.1 475.4,182.1 479.7,183.9 C484.0,185.7 496.2,188.8 499.5,189.8" stroke="#2fe02f"/>
<path d="M499.5,190.1 L500.7,189.7 L501.9,190.2 L503.1,190.6 L504.3,190.4 L505.5,190.6 L506.7,190.4 L507.9,190.3 L509.1,190.5 L510.4,190.7 L511.6,191.2 L512.8,191.2 L514.0,191.4 L515.2,191.8 L516.4,191.3 L517.6,191.5 L518.8,192.0 L520.0,191.6 L521.2,191.6 L522.4,192.0 L523.6,191.8 L524.8,192.0 L526.0,192.0 L527.2,192.3 L528.4,192.4 L529.6,192.1 L530.8,192.5 L532.0,192.4 L533.2,192.1 L534.4,192.8 L535.6,192.3 L536.8,192.3 L538.0,192.3 L539.2,192.8 L540.4,193.0 L541.6,192.9 L542.8,192.7 L544.0,192.6 L545.2,192.4 L546.4,193.0 L547.6,193.0 L548.8,192.8 L550.0,193.1 L551.2,193.0 L552.4,193.4 L553.6,193.2 L554.8,192.8 L556.0,193.4 L557.2,192.7 L558.4,193.1 L559.6,193.0 L560.8,192.9 L562.0,192.8 L563.2,193.4 L564.4,192.8 L565.6,193.2 L566.8,193.5 L568.0,192.9 L569.2,193.0 L570.4,193.3 L571.6,193.2 L572.8,193.3 L574.0,193.5 L575.2,193.0 L576.4,193.1 L577.6,193.1 L578.8,192.9 L580.0,193.6 L581.2,193.5 L582.4,193.4 L583.6,192.8 L584.8,193.5 L586.0,193.4 L587.2,193.2 L588.4,193.4 L589.6,193.1 L590.8,192.9 L592.0,192.8 L593.2,192.9 L594.4,192.7 L595.6,192.9 L596.8,193.2 L598.0,193.2 L599.2,193.3 L600.4,193.1 L601.6,192.8 L602.8,193.0 L604.0,192.8 L605.2,193.1 L606.4,192.9 L607.6,192.7 L608.8,192.9 L610.0,193.2 L611.2,192.2 L612.4,192.3 L613.6,191.2 L614.8,191.0 L616.0,190.6 L617.3,191.0 L618.5,191.1 L619.8,191.0 L621.1,190.6 L622.3,191.1 L623.6,190.6 L624.9,190.5 L626.1,191.1 L627.4,190.8 L628.7,190.9 L629.9,190.9 L631.2,191.1 L632.5,190.7 L633.7,191.0 L635.0,190.9 L636.2,191.3 L637.5,191.3 L638.8,191.9 L640.0,192.1 L641.3,192.2 L642.7,192.4 L644.0,193.0" stroke="#2fe02f"/>
<path d="M385.2,178.3 L387.0,172.0 L389.0,183.0 L391.0,170.4 L393.0,181.4 L395.0,173.5 L397.0,193.2 L399.0,176.7 L401.0,179.0 L403.0,179.8 L405.0,176.7 L407.0,172.0 L408.0,176.7 L409.0,162.5 L410.5,140.5" stroke="#0a0ab4"/>
<path d="M410.5,140.5 C410.9,140.1 411.6,137.2 412.6,138.0 C413.6,138.8 415.5,143.0 416.6,145.0 C417.8,147.0 418.5,148.6 419.5,150.0 C420.5,151.4 421.6,153.2 422.5,153.5 C423.4,153.8 424.2,153.0 425.0,152.0 C425.8,151.0 426.6,149.3 427.4,147.3 C428.2,145.3 429.0,142.5 430.0,140.0 C431.0,137.5 432.5,134.0 433.3,132.5 C434.1,131.0 434.3,131.8 434.6,131.0 C434.9,130.2 435.0,128.4 435.3,128.0 C435.6,127.6 435.7,129.4 436.2,128.5 C436.7,127.6 437.5,124.2 438.3,122.5 C439.1,120.8 440.0,119.1 441.0,118.0 C442.0,116.9 443.4,116.2 444.2,115.8 C445.0,115.3 445.4,115.2 446.0,115.3 C446.6,115.4 447.3,115.5 448.1,116.3 C448.9,117.1 450.0,118.1 451.0,120.0 C452.0,121.9 453.0,124.6 454.0,127.6 C455.0,130.6 456.0,134.4 457.0,138.0 C458.0,141.6 459.0,146.0 460.0,149.3 C461.0,152.6 462.0,155.4 463.0,158.0 C464.0,160.6 464.9,163.0 465.9,165.1 C466.9,167.2 468.0,168.8 469.0,170.5 C470.0,172.2 471.0,173.9 471.8,175.0 C472.6,176.1 472.5,175.7 473.8,177.0 C475.1,178.3 477.0,181.2 479.7,182.9 C482.4,184.7 486.6,186.3 490.0,187.5 C493.4,188.7 498.3,189.6 500.0,190.0" stroke="#0a0ab4"/>
<path d="M500.0,190.1 L501.2,189.7 L502.5,190.6 L503.8,190.1 L505.0,190.1 L506.2,190.3 L507.5,191.1 L508.8,190.7 L510.0,190.7 L511.2,190.7 L512.5,190.8 L513.8,191.5 L515.0,191.6 L516.2,191.8 L517.5,192.0 L518.8,191.5 L520.0,192.1 L521.2,191.9 L522.4,192.4 L523.6,192.4 L524.8,192.5 L526.0,191.8 L527.2,192.6 L528.4,192.7 L529.6,192.7 L530.8,192.0 L532.0,192.1 L533.2,192.1 L534.4,192.1 L535.6,192.8 L536.8,192.8 L538.0,192.7 L539.2,192.9 L540.4,192.8 L541.6,192.5 L542.8,192.4 L544.0,192.4 L545.2,193.1 L546.4,192.6 L547.6,192.8 L548.8,192.9 L550.0,192.6 L551.2,192.8 L552.4,192.8 L553.7,193.2 L554.9,192.9 L556.1,192.8 L557.3,193.4 L558.5,193.0 L559.8,193.3 L561.0,193.1 L562.2,192.6 L563.4,192.9 L564.6,192.9 L565.9,193.2 L567.1,192.9 L568.3,193.2 L569.5,193.0 L570.7,192.7 L572.0,193.3 L573.2,192.6 L574.4,193.3 L575.6,192.7 L576.8,192.6 L578.0,192.7 L579.3,193.2 L580.5,193.4 L581.7,192.6 L582.9,193.0 L584.1,193.0 L585.4,193.3 L586.6,192.7 L587.8,193.0 L589.0,192.9 L590.2,193.3 L591.5,192.8 L592.7,193.4 L593.9,192.8 L595.1,192.7 L596.3,193.2 L597.6,193.0 L598.8,192.6 L600.0,193.1 L601.2,192.6 L602.4,193.2 L603.6,193.1 L604.8,193.2 L606.1,193.0 L607.3,192.8 L608.5,192.8 L609.7,192.8 L610.9,193.2 L612.1,192.5 L613.3,193.2 L614.5,192.4 L615.8,192.5 L617.0,192.6 L618.2,193.1 L619.4,192.8 L620.6,192.6 L621.8,193.1 L623.0,192.5 L624.2,192.7 L625.5,192.7 L626.7,192.9 L627.9,192.9 L629.1,192.8 L630.3,192.5 L631.5,192.5 L632.7,192.3 L633.9,192.9 L635.2,192.7 L636.4,192.8 L637.6,192.2 L638.8,192.5 L640.0,192.7 L641.3,192.2 L642.7,191.5 L644.0,191.5" stroke="#0a0ab4"/>
<path d="M385.2,142.4 L387.0,138.0 L389.0,143.0 L391.0,136.0 L393.0,141.0 L395.0,137.0 L397.0,140.0 L399.0,135.0 L401.0,138.0 L403.0,134.0 L404.7,137.0 L405.7,115.5 L406.7,130.0 L407.7,139.4 L409.6,128.0 L411.5,126.3" stroke="#26e2de"/>
<path d="M411.5,126.3 C411.8,127.1 412.4,129.4 413.0,131.0 C413.6,132.6 414.1,133.7 415.0,136.0 C415.9,138.3 417.5,142.6 418.5,145.0 C419.5,147.4 420.3,149.4 421.0,150.5 C421.7,151.6 421.8,151.7 422.5,151.3 C423.2,150.9 424.2,149.9 425.0,148.0 C425.8,146.1 426.6,143.0 427.4,140.0 C428.2,137.0 429.2,133.1 430.0,130.0 C430.8,127.0 431.6,123.6 432.3,121.7 C433.0,119.8 433.6,119.2 434.0,118.5 C434.4,117.8 434.6,118.2 434.8,117.5 C435.0,116.8 435.1,114.6 435.4,114.0 C435.6,113.4 435.8,114.8 436.3,114.0 C436.8,113.2 437.7,110.6 438.3,108.9 C438.9,107.2 439.4,105.8 440.2,103.9 C440.9,102.0 442.0,99.6 442.8,97.7 C443.6,95.8 444.2,93.7 445.0,92.5 C445.8,91.3 446.7,90.6 447.5,90.6 C448.3,90.6 449.2,91.3 450.0,92.5 C450.8,93.7 451.6,95.8 452.3,97.7 C453.0,99.6 453.4,101.6 454.0,104.0 C454.6,106.4 455.2,109.1 455.8,111.9 C456.4,114.7 457.0,118.0 457.6,121.0 C458.2,124.0 458.8,126.9 459.4,130.0 C460.0,133.1 460.4,135.9 461.0,139.4 C461.6,142.9 462.3,147.9 463.0,151.0 C463.7,154.1 464.2,155.8 465.0,158.0 C465.8,160.2 467.0,162.2 467.8,164.0 C468.6,165.8 469.0,167.3 469.9,169.1 C470.8,170.8 471.4,172.5 473.0,174.5 C474.6,176.5 476.9,178.8 479.7,180.9 C482.5,183.0 488.0,185.8 489.6,186.8" stroke="#26e2de"/>
<path d="M489.6,186.8 L490.8,187.4 L492.1,187.1 L493.3,187.3 L494.5,187.6 L495.8,188.2 L497.0,188.6 L498.2,188.2 L499.5,188.5 L500.7,188.8 L501.9,189.1 L503.1,189.6 L504.4,189.5 L505.6,189.9 L506.8,190.0 L508.1,191.0 L509.3,191.0 L510.5,190.5 L511.8,191.3 L513.0,190.6 L514.2,191.0 L515.5,191.6 L516.7,191.5 L518.0,191.5 L519.2,191.3 L520.4,191.1 L521.7,191.6 L522.9,191.2 L524.1,191.3 L525.4,191.6 L526.6,191.3 L527.9,191.7 L529.1,192.1 L530.3,192.1 L531.6,192.0 L532.8,192.2 L534.0,192.1 L535.3,191.9 L536.5,192.4 L537.8,192.2 L539.0,192.6 L540.2,192.8 L541.4,192.4 L542.7,192.5 L543.9,192.7 L545.1,192.4 L546.3,192.3 L547.5,192.7 L548.8,192.9 L550.0,192.8 L551.2,192.8 L552.4,192.9 L553.6,192.8 L554.8,192.8 L556.1,192.6 L557.3,192.5 L558.5,192.8 L559.7,192.4 L560.9,192.7 L562.2,193.0 L563.4,193.0 L564.6,192.9 L565.8,192.6 L567.0,192.8 L568.2,192.8 L569.5,193.0 L570.7,192.8 L571.9,193.1 L573.1,193.3 L574.3,192.7 L575.6,193.1 L576.8,193.2 L578.0,192.9 L579.2,193.0 L580.4,193.4 L581.7,192.5 L582.9,192.9 L584.1,192.6 L585.3,193.1 L586.6,193.2 L587.8,192.8 L589.0,192.4 L590.2,192.8 L591.4,192.7 L592.7,192.9 L593.9,192.6 L595.1,192.7 L596.3,192.9 L597.6,192.6 L598.8,192.4 L600.0,192.9 L601.2,192.2 L602.4,192.6 L603.6,192.3 L604.8,192.7 L606.0,192.1 L607.2,192.8 L608.4,192.2 L609.6,191.9 L610.8,192.1 L612.0,192.2 L613.2,191.8 L614.4,192.2 L615.6,192.2 L616.8,192.4 L618.0,192.1 L619.2,192.0 L620.4,191.9 L621.6,192.4 L622.8,192.5 L624.0,192.1 L625.2,191.8 L626.4,192.3 L627.6,191.9 L628.8,191.8 L630.0,191.7 L631.2,192.2 L632.5,192.2 L633.8,191.9 L635.0,191.7 L636.2,191.7 L637.5,191.4 L638.8,192.0 L640.0,191.4 L641.3,191.3 L642.7,191.1 L644.0,190.5" stroke="#26e2de"/>
<path d="M385.2,123.4 C385.6,122.9 387.1,121.1 387.9,120.4 C388.7,119.7 389.2,119.8 389.9,119.4 C390.6,119.0 391.3,118.8 391.9,118.0 C392.5,117.2 392.8,115.7 393.4,114.5 C394.0,113.3 395.1,111.2 395.8,110.6 C396.5,110.0 396.8,110.6 397.3,111.1 C397.8,111.6 398.2,113.8 398.8,113.5 C399.4,113.2 400.5,110.2 401.2,109.6 C401.9,108.9 402.4,110.5 403.2,109.6 C403.9,108.7 404.8,105.3 405.7,104.2 C406.6,103.1 407.6,104.0 408.6,103.2 C409.6,102.4 410.6,100.8 411.6,99.2 C412.6,97.6 413.8,95.0 414.6,93.8 C415.4,92.6 415.9,92.2 416.5,92.3 C417.1,92.4 417.8,93.1 418.5,94.3 C419.2,95.5 419.9,98.1 420.5,99.7 C421.1,101.3 421.8,101.9 422.4,103.7 C423.0,105.5 423.8,108.9 424.4,110.6 C425.0,112.3 425.4,113.7 425.9,114.0 C426.4,114.3 426.8,113.9 427.4,112.5 C428.0,111.1 428.8,108.3 429.4,105.6 C430.0,102.8 430.9,98.1 431.3,96.0 C431.8,93.9 431.7,94.9 432.1,92.9 C432.5,90.9 433.1,86.3 433.5,84.0 C433.9,81.7 434.0,80.0 434.2,79.0 C434.4,78.0 434.7,78.9 434.9,77.8 C435.1,76.7 435.1,73.6 435.3,72.5 C435.5,71.4 435.6,71.9 435.8,71.0 C436.1,70.1 436.2,70.0 436.8,67.0 C437.4,64.0 438.7,57.5 439.7,52.7 C440.7,47.9 442.0,42.0 442.8,38.4 C443.6,34.8 443.9,33.4 444.5,31.0 C445.1,28.6 445.6,26.1 446.3,24.2 C447.0,22.3 447.8,20.5 448.5,19.5 C449.2,18.5 449.9,18.2 450.6,18.3 C451.3,18.4 451.9,18.8 452.6,19.8 C453.3,20.8 454.0,21.8 454.6,24.2 C455.2,26.6 455.9,30.4 456.5,34.0 C457.1,37.5 457.6,41.7 458.2,45.5 C458.8,49.3 459.4,53.0 460.0,57.0 C460.6,61.0 461.1,65.2 461.7,69.2 C462.2,73.2 462.8,77.0 463.3,81.0 C463.8,85.0 464.3,89.1 464.8,92.9 C465.3,96.7 465.8,100.4 466.3,104.0 C466.8,107.6 467.1,109.8 467.7,114.3 C468.3,118.8 469.0,125.2 470.0,131.0 C471.0,136.8 472.2,144.3 473.8,149.3 C475.4,154.3 477.1,157.2 479.7,161.2 C482.3,165.1 486.3,169.7 489.6,173.0 C492.9,176.3 496.2,178.8 499.5,180.9 C502.8,183.0 507.7,185.0 509.3,185.8" stroke="#d41ad4"/>
<path d="M509.3,186.1 L510.5,186.0 L511.8,186.1 L513.0,186.6 L514.2,186.4 L515.5,187.4 L516.7,187.2 L518.0,187.9 L519.2,187.6 L520.4,187.9 L521.7,188.1 L522.9,188.5 L524.1,188.5 L525.4,188.6 L526.6,189.5 L527.9,189.3 L529.1,189.5 L530.3,189.7 L531.6,190.0 L532.8,190.1 L534.0,190.4 L535.3,190.6 L536.5,190.4 L537.7,191.1 L539.0,191.2 L540.2,190.5 L541.4,191.4 L542.6,191.6 L543.9,191.6 L545.1,191.1 L546.3,191.9 L547.6,191.8 L548.8,191.3 L550.0,191.4 L551.3,192.4 L552.5,192.2 L553.7,191.9 L555.0,191.8 L556.2,191.9 L557.4,192.1 L558.7,192.7 L559.9,192.4 L561.1,192.2 L562.4,193.1 L563.6,193.0 L564.8,192.5 L566.1,193.3 L567.3,193.1 L568.5,193.3 L569.8,193.3 L571.0,193.6 L572.2,193.6 L573.5,193.7 L574.7,193.2 L575.9,193.7 L577.2,193.7 L578.4,193.9 L579.6,193.7 L580.8,194.1 L582.0,193.8 L583.2,193.5 L584.4,193.5 L585.6,193.4 L586.8,193.8 L588.0,193.4 L589.2,193.8 L590.4,193.5 L591.6,193.9 L592.8,193.9 L594.0,194.0 L595.2,194.3 L596.4,193.5 L597.6,194.3 L598.8,194.0 L600.0,194.1 L601.2,194.2 L602.5,194.4 L603.8,193.9 L605.0,194.0 L606.2,194.6 L607.5,193.7 L608.8,194.3 L610.0,194.3 L611.2,193.7 L612.5,194.3 L613.8,194.4 L615.0,194.7 L616.2,194.1 L617.5,194.7 L618.8,194.3 L620.0,194.3 L621.2,194.7 L622.4,193.9 L623.6,194.5 L624.8,194.5 L626.0,194.2 L627.2,194.7 L628.4,194.2 L629.6,194.4 L630.8,194.4 L632.0,194.7 L633.2,194.1 L634.4,194.4 L635.6,194.4 L636.8,194.5 L638.0,194.8 L639.2,194.3 L640.4,194.8 L641.6,194.4 L642.8,194.5 L644.0,194.5" stroke="#d41ad4"/>
</g>
<rect x="385.2" y="0.4" width="290.2" height="213.1" fill="none" stroke="#333" stroke-width="1.1"/>
<text x="377.5" y="198.5" text-anchor="end" font-size="8.4" fill="#2a2a2a" stroke="#2a2a2a">0.0</text>
<text x="377.5" y="163.1" text-anchor="end" font-size="8.4" fill="#2a2a2a" stroke="#2a2a2a">0.2</text>
<text x="377.5" y="127.7" text-anchor="end" font-size="8.4" fill="#2a2a2a" stroke="#2a2a2a">0.4</text>
<text x="377.5" y="92.2" text-anchor="end" font-size="8.4" fill="#2a2a2a" stroke="#2a2a2a">0.6</text>
<text x="377.5" y="56.8" text-anchor="end" font-size="8.4" fill="#2a2a2a" stroke="#2a2a2a">0.8</text>
<text x="377.5" y="21.4" text-anchor="end" font-size="8.4" fill="#2a2a2a" stroke="#2a2a2a">1.0</text>
<text x="385.2" y="227.7" text-anchor="middle" font-size="8.4" fill="#2a2a2a" stroke="#2a2a2a">200</text>
<text x="443.2" y="227.7" text-anchor="middle" font-size="8.4" fill="#2a2a2a" stroke="#2a2a2a">400</text>
<text x="501.3" y="227.7" text-anchor="middle" font-size="8.4" fill="#2a2a2a" stroke="#2a2a2a">600</text>
<text x="559.3" y="227.7" text-anchor="middle" font-size="8.4" fill="#2a2a2a" stroke="#2a2a2a">800</text>
<text x="617.4" y="227.7" text-anchor="middle" font-size="8.4" fill="#2a2a2a" stroke="#2a2a2a">1000</text>
<text x="675.4" y="227.7" text-anchor="middle" font-size="8.4" fill="#2a2a2a" stroke="#2a2a2a">1200</text>
<path d="M380.9,195.5 H385.2 M380.9,160.1 H385.2 M380.9,124.7 H385.2 M380.9,89.2 H385.2 M380.9,53.8 H385.2 M380.9,18.4 H385.2 M383.2,213.2 H385.2 M383.2,177.8 H385.2 M383.2,142.4 H385.2 M383.2,106.9 H385.2 M383.2,71.5 H385.2 M383.2,36.1 H385.2 M383.2,0.7 H385.2 M385.2,213.5 V217.3 M414.2,213.5 V215.8 M443.2,213.5 V217.3 M472.3,213.5 V215.8 M501.3,213.5 V217.3 M530.3,213.5 V215.8 M559.3,213.5 V217.3 M588.3,213.5 V215.8 M617.4,213.5 V217.3 M646.4,213.5 V215.8 M675.4,213.5 V217.3" stroke="#333" stroke-width="1.1" fill="none"/>
<text x="530.3" y="242.5" text-anchor="middle" font-size="10.7" fill="#2a2a2a" stroke="#2a2a2a">Wavelength (nm)</text>
<text transform="translate(358.0,114.2) rotate(-90)" text-anchor="middle" font-size="10.7" fill="#2a2a2a" stroke="#2a2a2a">Absorbance (a.u)</text>
<text transform="translate(631.8,22.9) scale(1,1.04)" font-size="17" fill="#111" stroke="#111">(C)</text>
<rect x="593.5" y="38.3" width="67.0" height="114.5" fill="#fff" stroke="#555" stroke-width="1"/>
<path d="M600.1,55.8 H626.7" stroke="#4a4a4a" stroke-width="2.1"/>
<text x="631.0" y="59.5" font-size="10.3" fill="#1a1a1a" stroke="#1a1a1a">0h</text>
<path d="M600.1,68.9 H626.7" stroke="#050505" stroke-width="2.1"/>
<text x="631.0" y="72.6" font-size="10.3" fill="#1a1a1a" stroke="#1a1a1a">1h</text>
<path d="M600.1,82.0 H626.7" stroke="#c81a1a" stroke-width="2.1"/>
<text x="631.0" y="85.7" font-size="10.3" fill="#1a1a1a" stroke="#1a1a1a">2h</text>
<path d="M600.1,95.0 H626.7" stroke="#2fe02f" stroke-width="2.1"/>
<text x="631.0" y="98.7" font-size="10.3" fill="#1a1a1a" stroke="#1a1a1a">3h</text>
<path d="M600.1,108.1 H626.7" stroke="#0a0ab4" stroke-width="2.1"/>
<text x="631.0" y="111.8" font-size="10.3" fill="#1a1a1a" stroke="#1a1a1a">24h</text>
<path d="M600.1,121.2 H626.7" stroke="#26e2de" stroke-width="2.1"/>
<text x="631.0" y="124.9" font-size="10.3" fill="#1a1a1a" stroke="#1a1a1a">48h</text>
<path d="M600.1,134.3 H626.7" stroke="#d41ad4" stroke-width="2.1"/>
<text x="631.0" y="138.0" font-size="10.3" fill="#1a1a1a" stroke="#1a1a1a">120h</text>
<clipPath id="clipB"><rect x="41.3" y="259.5" width="291.6" height="213.9"/></clipPath>
<g clip-path="url(#clipB)" fill="none" stroke-width="2.2" stroke-linejoin="round" stroke-linecap="round">
<path d="M41.4,395.0 L43.0,372.0 L44.0,408.5 L46.0,378.0 L47.5,385.0 L49.0,407.3 L51.0,385.0 L53.0,374.0 L55.0,406.2 L57.5,410.9 L59.0,390.0 L61.0,378.0 L63.0,402.0 L65.0,382.0 L66.5,400.0" stroke="#4a4a4a"/>
<path d="M66.5,400.0 C67.0,403.2 68.1,414.3 69.5,419.0 C70.9,423.7 73.1,425.4 75.0,428.0 C76.9,430.6 79.1,432.9 80.8,434.8 C82.5,436.7 83.5,438.0 85.0,439.5 C86.5,441.0 88.3,442.0 89.9,443.9 C91.5,445.8 92.7,449.1 94.4,450.7 C96.1,452.3 97.6,452.5 100.0,453.5 C102.4,454.5 105.0,455.4 108.8,456.6 C112.6,457.9 116.6,459.4 122.6,461.0 C128.6,462.6 137.7,464.6 145.0,466.0 C152.3,467.4 163.1,468.9 166.7,469.5" stroke="#4a4a4a"/>
<path d="M166.7,469.3 L167.9,469.5 L169.2,470.0 L170.4,469.8 L171.6,469.9 L172.9,469.5 L174.1,469.6 L175.3,469.6 L176.6,469.9 L177.8,470.0 L179.0,470.1 L180.3,469.5 L181.5,470.1 L182.7,470.3 L184.0,470.1 L185.2,469.7 L186.4,469.9 L187.7,469.7 L188.9,469.9 L190.1,470.6 L191.4,470.3 L192.6,470.4 L193.8,470.6 L195.1,470.7 L196.3,470.5 L197.5,470.5 L198.8,470.6 L200.0,470.7 L201.2,470.6 L202.4,470.7 L203.7,470.2 L204.9,470.7 L206.1,470.5 L207.3,470.7 L208.5,470.1 L209.8,470.2 L211.0,470.1 L212.2,470.7 L213.4,470.9 L214.6,470.6 L215.9,470.4 L217.1,470.8 L218.3,470.8 L219.5,470.6 L220.7,470.3 L222.0,470.3 L223.2,470.4 L224.4,470.3 L225.6,470.4 L226.8,470.6 L228.0,470.9 L229.3,470.1 L230.5,470.6 L231.7,470.1 L232.9,470.2 L234.1,470.8 L235.4,470.6 L236.6,470.9 L237.8,470.5 L239.0,470.1 L240.2,470.4 L241.5,470.6 L242.7,470.9 L243.9,470.9 L245.1,470.5 L246.3,470.4 L247.6,470.1 L248.8,470.6 L250.0,470.2 L251.2,470.2 L252.4,470.1 L253.6,470.1 L254.8,470.7 L256.0,470.2 L257.2,470.9 L258.4,470.1 L259.6,470.8 L260.8,470.2 L262.0,470.1 L263.2,470.7 L264.4,470.3 L265.6,470.7 L266.8,470.2 L268.0,470.1 L269.2,470.7 L270.4,470.7 L271.6,470.8 L272.8,470.7 L274.0,470.1 L275.2,470.6 L276.4,470.7 L277.6,470.5 L278.8,470.9 L280.0,470.3 L281.2,470.9 L282.4,470.7 L283.6,470.1 L284.8,470.1 L286.0,470.6 L287.2,470.8 L288.4,470.1 L289.6,470.3 L290.8,470.7 L292.0,470.2 L293.2,470.8 L294.4,470.5 L295.6,470.1 L296.8,470.4 L298.0,470.6 L299.2,470.4 L300.4,470.7 L301.6,470.5" stroke="#4a4a4a"/>
<path d="M41.5,450.5 L43.0,462.3 L44.5,467.1 L46.0,450.5 L48.0,465.9 L50.0,445.8 L52.0,471.8 L53.0,473.0 L55.0,457.6 L57.0,461.2 L59.0,467.1 L61.0,450.5 L63.0,464.7 L65.0,445.0 L66.5,440.0" stroke="#050505"/>
<path d="M66.5,440.0 C66.8,438.8 67.8,433.7 68.5,433.0 C69.2,432.3 70.1,434.8 71.0,436.0 C71.9,437.2 72.5,438.6 74.0,440.0 C75.5,441.4 78.1,443.2 80.0,444.5 C81.9,445.8 82.9,445.8 85.4,447.5 C87.9,449.2 91.1,453.5 95.0,455.0 C98.9,456.5 104.2,455.6 108.8,456.6 C113.4,457.6 116.6,459.2 122.6,460.8 C128.6,462.4 137.7,464.9 145.0,466.3 C152.3,467.8 163.1,469.0 166.7,469.5" stroke="#050505"/>
<path d="M166.7,469.2 L167.9,469.8 L169.2,469.5 L170.4,469.7 L171.6,469.8 L172.9,469.6 L174.1,469.6 L175.3,470.0 L176.6,470.2 L177.8,470.1 L179.0,469.9 L180.3,469.7 L181.5,469.5 L182.7,470.4 L184.0,470.2 L185.2,470.4 L186.4,469.9 L187.7,470.2 L188.9,470.6 L190.1,470.5 L191.4,470.3 L192.6,470.1 L193.8,470.3 L195.1,470.7 L196.3,470.3 L197.5,470.6 L198.8,470.6 L200.0,470.9 L201.2,470.8 L202.4,470.3 L203.7,470.1 L204.9,470.3 L206.1,470.5 L207.3,470.7 L208.5,470.9 L209.8,470.9 L211.0,470.2 L212.2,470.9 L213.4,470.9 L214.6,471.0 L215.9,470.7 L217.1,470.5 L218.3,471.0 L219.5,471.0 L220.7,470.9 L222.0,471.1 L223.2,470.6 L224.4,470.4 L225.6,470.8 L226.8,471.0 L228.0,470.5 L229.3,471.0 L230.5,471.2 L231.7,470.6 L232.9,470.9 L234.1,471.0 L235.4,470.8 L236.6,470.6 L237.8,470.7 L239.0,471.1 L240.2,471.2 L241.5,470.9 L242.7,470.6 L243.9,471.2 L245.1,471.2 L246.3,470.7 L247.6,471.0 L248.8,471.3 L250.0,471.3 L251.2,471.0 L252.4,471.0 L253.6,471.0 L254.8,470.7 L256.0,470.7 L257.2,470.6 L258.4,471.1 L259.6,470.8 L260.8,471.0 L262.0,470.8 L263.2,470.9 L264.4,470.5 L265.6,470.4 L266.8,471.3 L268.0,470.7 L269.2,470.5 L270.4,470.9 L271.6,471.0 L272.8,470.5 L274.0,470.9 L275.2,470.6 L276.4,470.8 L277.6,470.3 L278.8,470.3 L280.0,471.2 L281.2,471.0 L282.4,470.7 L283.6,470.7 L284.8,470.4 L286.0,470.9 L287.2,470.6 L288.4,471.0 L289.6,470.9 L290.8,470.9 L292.0,471.0 L293.2,470.4 L294.4,470.2 L295.6,470.3 L296.8,470.3 L298.0,470.2 L299.2,470.1 L300.4,470.6 L301.6,470.5" stroke="#050505"/>
<path d="M41.5,448.1 L43.0,456.4 L45.0,444.6 L47.0,435.1 L49.0,461.2 L51.0,454.1 L53.0,456.4 L54.5,442.8 L56.0,451.7 L58.0,449.3 L60.0,456.4 L62.0,438.7 L63.5,457.6 L65.0,435.1 L66.5,431.6 L68.0,426.8" stroke="#c81a1a"/>
<path d="M68.0,426.8 C68.3,427.5 69.3,429.6 70.0,431.0 C70.7,432.4 71.2,434.1 72.0,435.5 C72.8,436.9 73.7,438.2 75.0,439.5 C76.3,440.8 78.3,442.3 80.0,443.4 C81.7,444.5 83.0,444.3 85.4,446.2 C87.8,448.1 90.5,452.6 94.4,454.5 C98.3,456.4 104.1,456.1 108.8,457.3 C113.5,458.5 116.6,460.1 122.6,461.5 C128.6,462.9 137.7,464.3 145.0,465.6 C152.3,466.9 163.1,468.9 166.7,469.5" stroke="#c81a1a"/>
<path d="M166.7,469.8 L167.9,469.5 L169.2,470.0 L170.4,470.0 L171.6,469.3 L172.9,469.8 L174.1,469.6 L175.3,469.4 L176.6,470.2 L177.8,469.6 L179.0,469.9 L180.3,470.0 L181.5,470.4 L182.7,470.1 L184.0,469.9 L185.2,470.0 L186.4,469.8 L187.7,470.5 L188.9,470.6 L190.1,470.0 L191.4,469.8 L192.6,470.1 L193.8,470.2 L195.1,470.7 L196.3,470.8 L197.5,470.7 L198.8,470.1 L200.0,470.8 L201.2,470.7 L202.4,470.6 L203.7,471.0 L204.9,470.1 L206.1,470.2 L207.3,470.8 L208.5,470.9 L209.8,470.7 L211.0,470.4 L212.2,470.7 L213.4,470.8 L214.6,470.2 L215.9,470.4 L217.1,470.4 L218.3,470.3 L219.5,470.6 L220.7,470.3 L222.0,470.4 L223.2,470.3 L224.4,470.8 L225.6,470.2 L226.8,470.9 L228.0,470.4 L229.3,470.3 L230.5,471.1 L231.7,470.4 L232.9,471.1 L234.1,471.0 L235.4,471.1 L236.6,470.4 L237.8,470.7 L239.0,470.4 L240.2,471.1 L241.5,471.1 L242.7,470.9 L243.9,470.7 L245.1,470.6 L246.3,471.1 L247.6,470.8 L248.8,470.9 L250.0,470.5 L251.2,470.5 L252.4,470.4 L253.6,471.0 L254.8,470.8 L256.0,470.4 L257.2,471.1 L258.4,470.5 L259.6,470.7 L260.8,470.4 L262.0,470.5 L263.2,471.0 L264.4,470.6 L265.6,470.4 L266.8,470.7 L268.0,470.5 L269.2,471.1 L270.4,470.3 L271.6,471.1 L272.8,470.3 L274.0,471.0 L275.2,470.8 L276.4,470.4 L277.6,470.6 L278.8,470.4 L280.0,470.4 L281.2,470.4 L282.4,470.5 L283.6,471.0 L284.8,471.0 L286.0,471.0 L287.2,470.2 L288.4,470.4 L289.6,470.9 L290.8,470.2 L292.0,470.8 L293.2,470.4 L294.4,471.0 L295.6,470.1 L296.8,470.8 L298.0,470.4 L299.2,470.2 L300.4,470.1 L301.6,470.5" stroke="#c81a1a"/>
<path d="M41.5,462.3 L43.0,449.3 L44.5,437.5 L46.0,455.2 L48.0,464.7 L50.0,447.0 L51.5,464.7 L53.0,468.3 L54.5,455.2 L56.0,457.6 L58.0,460.0 L60.0,455.2 L61.5,438.7 L63.0,445.8 L64.5,436.3 L66.0,441.0 L67.5,439.9" stroke="#2fe02f"/>
<path d="M67.5,439.9 C67.9,439.9 68.9,439.8 70.0,439.9 C71.1,440.0 72.3,439.7 74.0,440.5 C75.7,441.3 78.1,443.5 80.0,444.6 C81.9,445.7 82.9,446.2 85.4,447.3 C87.9,448.4 92.2,450.2 95.0,451.0 C97.8,451.8 99.7,451.4 102.0,451.8 C104.3,452.2 105.4,452.4 108.8,453.2 C112.2,454.0 118.0,455.3 122.6,456.6 C127.2,457.9 132.7,459.8 136.4,460.8 C140.1,461.8 141.8,462.2 145.0,462.8 C148.2,463.4 153.7,464.1 155.4,464.4" stroke="#2fe02f"/>
<path d="M155.4,464.8 L156.6,464.5 L157.9,464.2 L159.1,464.5 L160.3,465.2 L161.6,464.4 L162.8,464.9 L164.1,464.5 L165.3,464.6 L166.5,465.4 L167.8,465.4 L169.0,464.9 L170.2,464.8 L171.5,464.9 L172.7,465.6 L173.9,465.5 L175.2,465.3 L176.4,465.3 L177.6,465.9 L178.9,466.1 L180.1,466.3 L181.3,466.1 L182.6,465.7 L183.8,465.6 L185.1,466.5 L186.3,466.2 L187.5,466.6 L188.8,465.9 L190.0,466.9 L191.2,466.3 L192.4,466.9 L193.6,467.0 L194.8,466.6 L196.1,466.0 L197.3,467.1 L198.5,466.6 L199.7,467.1 L200.9,466.4 L202.1,466.3 L203.3,467.1 L204.5,466.5 L205.8,466.3 L207.0,466.6 L208.2,466.8 L209.4,466.1 L210.6,466.8 L211.8,466.7 L213.0,466.8 L214.2,466.3 L215.5,467.1 L216.7,467.2 L217.9,467.3 L219.1,466.6 L220.3,467.1 L221.5,466.8 L222.7,467.2 L223.9,466.4 L225.2,467.4 L226.4,467.5 L227.6,467.0 L228.8,467.0 L230.0,467.0 L231.2,467.1 L232.4,466.5 L233.6,467.6 L234.8,466.7 L236.0,466.7 L237.2,466.6 L238.4,466.8 L239.6,467.5 L240.8,466.6 L242.0,466.7 L243.2,467.5 L244.4,466.9 L245.6,466.7 L246.8,467.4 L248.0,467.4 L249.2,467.3 L250.4,467.6 L251.6,466.9 L252.8,467.8 L254.0,467.7 L255.2,466.9 L256.4,467.0 L257.6,467.5 L258.8,467.5 L260.0,467.2 L261.2,467.0 L262.5,467.3 L263.8,466.9 L265.0,467.4 L266.2,467.6 L267.5,466.7 L268.8,467.1 L270.0,467.3 L271.2,466.5 L272.5,467.3 L273.8,467.3 L275.0,466.6 L276.2,466.6 L277.5,467.0 L278.8,466.6 L280.0,466.4 L281.2,467.1 L282.5,467.0 L283.8,466.5 L285.0,466.4 L286.2,466.6 L287.5,466.8 L288.8,467.5 L290.0,467.4 L291.3,467.6 L292.6,467.5 L293.9,467.6 L295.2,466.7 L296.4,467.3 L297.7,467.9 L299.0,467.9 L300.3,467.1 L301.6,467.5" stroke="#2fe02f"/>
<path d="M41.4,385.0 L43.0,370.7 L44.5,392.0 L47.0,374.8 L49.0,395.5 L51.0,380.0 L53.0,371.8 L55.0,392.0 L57.0,409.7 L59.0,385.0 L61.0,376.6 L63.0,402.6 L65.0,385.0 L66.1,409.9" stroke="#0a0ab4"/>
<path d="M66.1,409.9 C66.7,411.8 68.2,417.8 69.5,421.2 C70.8,424.6 72.5,427.4 74.0,430.0 C75.5,432.6 77.2,436.2 78.5,437.1 C79.8,438.0 80.8,436.1 82.0,435.5 C83.2,434.9 83.9,434.2 85.4,433.7 C86.9,433.2 89.7,432.6 91.0,432.6 C92.3,432.6 92.6,433.6 93.3,433.7 C94.0,433.8 94.0,433.8 95.0,433.1 C96.0,432.4 97.5,430.5 99.1,429.7 C100.7,428.9 103.1,428.3 104.7,428.3 C106.3,428.3 107.4,428.8 108.8,429.7 C110.2,430.6 111.4,432.3 113.0,433.8 C114.6,435.3 116.7,436.7 118.5,438.7 C120.3,440.7 122.2,443.4 124.0,445.6 C125.8,447.8 127.4,449.7 129.5,451.8 C131.6,453.9 133.8,456.4 136.4,458.0 C139.0,459.6 141.8,460.2 145.0,461.5 C148.2,462.8 149.9,464.4 155.4,465.5 C160.9,466.6 174.3,467.4 178.1,467.8" stroke="#0a0ab4"/>
<path d="M178.1,467.7 L179.3,468.0 L180.5,467.8 L181.8,468.0 L183.0,467.7 L184.2,468.1 L185.4,468.2 L186.6,467.8 L187.8,468.0 L189.1,468.8 L190.3,468.7 L191.5,468.9 L192.7,468.7 L193.9,468.9 L195.1,469.1 L196.3,469.1 L197.6,468.4 L198.8,469.1 L200.0,468.8 L201.2,469.2 L202.4,468.8 L203.6,469.1 L204.8,469.5 L206.0,469.2 L207.2,468.9 L208.4,469.2 L209.6,469.1 L210.8,469.6 L212.0,469.0 L213.2,469.0 L214.4,469.4 L215.6,468.9 L216.8,469.4 L218.0,469.7 L219.2,469.3 L220.4,469.1 L221.6,469.3 L222.8,469.4 L224.0,469.1 L225.2,469.1 L226.4,469.1 L227.6,469.3 L228.8,469.4 L230.0,469.3 L231.2,469.2 L232.5,469.0 L233.8,469.3 L235.0,469.5 L236.2,469.2 L237.5,469.1 L238.8,469.1 L240.0,468.6 L241.2,468.9 L242.5,468.6 L243.8,468.6 L245.0,468.6 L246.2,468.5 L247.5,468.4 L248.8,468.4 L250.0,468.4 L251.2,468.7 L252.5,468.6 L253.8,468.9 L255.0,468.4 L256.2,468.7 L257.5,469.2 L258.8,468.7 L260.0,469.1 L261.2,469.0 L262.5,468.7 L263.8,469.3 L265.0,468.6 L266.2,469.0 L267.5,468.4 L268.8,468.3 L270.0,469.0 L271.2,468.6 L272.5,468.2 L273.8,468.4 L275.0,468.4 L276.2,468.7 L277.5,468.1 L278.8,468.3 L280.0,468.9 L281.2,468.7 L282.5,468.2 L283.8,468.4 L285.0,468.4 L286.2,468.7 L287.5,468.6 L288.8,468.8 L290.0,468.8 L291.4,468.3 L292.8,468.3 L294.2,468.1 L295.6,467.9 L297.0,467.5 L298.5,467.6 L300.1,467.4 L301.6,467.0" stroke="#0a0ab4"/>
<path d="M41.5,394.3 L43.0,400.2 L45.0,387.2 L47.0,395.5 L49.0,383.7 L51.0,399.0 L53.0,383.7 L55.0,400.2 L57.0,373.0 L59.0,395.5 L61.0,375.4 L63.0,401.4 L65.0,381.3 L66.5,405.0" stroke="#26e2de"/>
<path d="M66.5,405.0 C66.8,406.6 67.4,412.0 68.0,414.4 C68.6,416.8 69.0,416.6 70.0,419.2 C71.0,421.8 72.6,427.0 74.0,430.0 C75.4,433.0 77.2,436.9 78.5,437.1 C79.8,437.3 80.8,432.9 82.0,431.0 C83.2,429.1 83.9,427.4 85.4,425.8 C86.9,424.2 89.8,422.4 91.0,421.2 C92.2,420.0 92.0,418.6 92.5,418.5 C93.0,418.4 93.3,420.6 93.8,420.5 C94.3,420.4 94.6,419.4 95.5,418.0 C96.4,416.6 97.6,413.8 99.1,412.4 C100.6,411.0 103.1,409.7 104.7,409.7 C106.3,409.7 107.4,410.6 108.8,412.4 C110.2,414.2 111.6,417.5 113.0,420.7 C114.4,423.9 115.5,428.1 117.1,431.8 C118.7,435.5 120.5,439.4 122.6,442.8 C124.7,446.2 127.2,450.0 129.5,452.5 C131.8,455.0 133.8,456.5 136.4,458.0 C139.0,459.5 139.9,459.7 145.0,461.5 C150.1,463.3 163.1,467.7 166.7,468.9" stroke="#26e2de"/>
<path d="M166.7,469.3 L167.9,468.6 L169.2,469.3 L170.4,468.6 L171.6,469.3 L172.9,469.2 L174.1,469.1 L175.3,469.6 L176.6,469.3 L177.8,469.2 L179.0,469.6 L180.3,469.7 L181.5,469.5 L182.7,469.3 L184.0,469.4 L185.2,469.5 L186.4,469.8 L187.7,469.4 L188.9,469.5 L190.1,469.7 L191.4,469.6 L192.6,469.6 L193.8,470.1 L195.1,470.2 L196.3,469.9 L197.5,469.9 L198.8,469.7 L200.0,469.8 L201.2,469.7 L202.5,470.1 L203.8,470.1 L205.0,469.7 L206.2,470.5 L207.5,469.9 L208.8,470.4 L210.0,470.4 L211.2,470.5 L212.5,469.9 L213.8,470.1 L215.0,470.5 L216.2,469.8 L217.5,469.8 L218.8,470.3 L220.0,470.2 L221.2,470.6 L222.5,470.5 L223.8,470.3 L225.0,470.7 L226.2,470.2 L227.5,470.2 L228.8,470.3 L230.0,469.9 L231.2,469.8 L232.5,470.0 L233.8,469.7 L235.0,470.2 L236.2,469.9 L237.5,469.7 L238.8,469.2 L240.0,469.4 L241.2,469.3 L242.5,469.4 L243.8,469.3 L245.0,469.5 L246.2,469.5 L247.5,469.0 L248.8,468.9 L250.0,468.9 L251.2,469.2 L252.5,468.5 L253.8,468.6 L255.0,468.8 L256.4,468.5 L257.8,468.9 L259.2,469.8 L260.6,470.0 L262.0,470.0 L263.3,469.6 L264.7,470.2 L266.0,469.9 L267.3,470.0 L268.7,470.0 L270.0,469.8 L271.2,469.2 L272.5,468.8 L273.8,468.7 L275.0,468.8 L276.2,468.6 L277.5,468.1 L278.8,467.9 L280.0,468.1 L281.2,468.1 L282.5,467.8 L283.8,468.4 L285.0,468.0 L286.2,467.5 L287.5,467.8 L288.8,468.1 L290.0,467.6 L291.2,468.1 L292.5,467.6 L293.8,467.9 L295.0,468.5 L296.8,467.2 L298.5,466.2 L300.1,465.1 L301.6,464.8" stroke="#26e2de"/>
<path d="M41.5,357.0 C42.2,355.4 44.7,350.1 45.9,347.6 C47.1,345.1 47.5,344.0 48.5,342.0 C49.5,340.0 50.8,336.8 51.8,335.7 C52.8,334.6 53.5,335.0 54.2,335.3 C54.9,335.6 55.5,337.8 56.1,337.6 C56.7,337.4 57.3,335.1 58.0,334.0 C58.7,332.9 59.4,332.7 60.1,331.0 C60.9,329.3 61.9,325.1 62.5,323.9 C63.1,322.6 63.4,323.9 64.0,323.5 C64.6,323.1 65.3,322.6 66.0,321.5 C66.7,320.4 67.7,318.7 68.4,316.8 C69.2,314.9 69.7,312.2 70.5,310.0 C71.3,307.8 72.3,304.4 73.1,303.8 C73.9,303.2 74.8,304.3 75.5,306.2 C76.2,308.1 76.9,311.6 77.5,315.0 C78.1,318.4 78.4,320.9 79.1,326.3 C79.8,331.7 80.6,343.1 81.4,347.6 C82.2,352.1 83.0,353.1 83.8,353.5 C84.6,353.9 85.5,351.8 86.2,349.9 C86.9,348.0 87.4,344.8 88.0,342.0 C88.6,339.2 89.1,337.0 89.7,333.4 C90.3,329.8 91.0,320.2 91.6,320.4 C92.2,320.6 92.7,334.3 93.3,334.6 C93.9,334.9 94.4,325.8 95.0,322.0 C95.6,318.2 96.2,315.3 96.8,312.1 C97.4,308.9 97.9,305.8 98.5,303.0 C99.1,300.2 99.8,297.8 100.4,295.5 C101.0,293.2 101.4,290.8 102.0,289.0 C102.6,287.2 103.3,286.0 103.9,284.9 C104.5,283.8 104.9,283.0 105.5,282.5 C106.1,282.0 106.9,281.7 107.5,281.8 C108.1,281.9 108.4,282.1 109.0,283.0 C109.6,283.9 110.2,284.9 111.0,287.2 C111.8,289.5 112.7,293.2 113.5,297.0 C114.3,300.8 115.0,305.5 115.7,309.7 C116.5,313.9 117.2,317.3 118.0,322.0 C118.8,326.7 119.8,333.0 120.5,338.0 C121.2,343.0 121.8,347.3 122.5,352.0 C123.2,356.7 123.8,362.0 124.5,366.0 C125.2,370.0 125.9,373.2 126.5,376.0 C127.1,378.8 127.3,379.9 128.1,382.7 C128.8,385.5 129.8,389.2 131.0,393.0 C132.2,396.8 133.7,401.6 135.0,405.4 C136.3,409.2 137.5,412.6 139.0,416.0 C140.5,419.4 142.2,422.7 144.0,425.8 C145.8,428.9 148.1,431.9 150.0,434.5 C151.9,437.1 153.7,439.6 155.4,441.7 C157.1,443.8 158.1,445.1 160.0,447.0 C161.9,448.9 164.7,451.4 166.7,453.0 C168.7,454.6 170.1,455.4 172.0,456.5 C173.9,457.6 175.1,458.7 178.1,459.8 C181.1,460.9 188.0,462.5 190.0,463.0" stroke="#d41ad4"/>
<path d="M190.0,463.0 L191.3,463.4 L192.7,463.3 L194.0,464.1 L195.3,464.3 L196.7,465.2 L198.0,465.0 L199.4,465.1 L200.7,465.0 L202.0,465.3 L203.3,466.2 L204.6,465.6 L205.9,465.7 L207.2,466.0 L208.5,466.6 L209.8,467.2 L211.1,467.1 L212.4,467.5 L213.7,466.8 L215.0,466.9 L216.2,467.9 L217.5,467.5 L218.8,468.1 L220.0,467.8 L221.2,467.7 L222.5,467.9 L223.8,467.8 L225.0,468.9 L226.2,468.6 L227.5,468.5 L228.8,468.7 L230.0,468.8 L231.2,468.4 L232.5,469.5 L233.8,469.2 L235.0,469.7 L236.2,469.1 L237.5,469.4 L238.8,469.0 L240.0,468.8 L241.2,469.9 L242.5,469.9 L243.8,469.3 L245.0,470.1 L246.2,470.0 L247.5,469.5 L248.8,469.9 L250.0,470.4 L251.2,469.8 L252.5,470.4 L253.8,469.6 L255.0,469.8 L256.2,470.3 L257.5,469.7 L258.8,469.9 L260.0,470.6 L261.2,470.2 L262.5,470.6 L263.8,470.0 L265.0,469.9 L266.2,470.2 L267.5,470.0 L268.8,471.0 L270.0,470.2 L271.2,470.6 L272.5,470.1 L273.8,470.6 L275.0,470.4 L276.2,470.5 L277.5,470.1 L278.8,470.2 L280.0,471.0 L281.2,470.5 L282.5,470.4 L283.8,470.3 L285.0,470.5 L286.2,470.4 L287.5,470.2 L288.8,471.0 L290.0,470.6 L291.3,470.4 L292.6,471.1 L293.9,470.4 L295.2,470.6 L296.4,471.3 L297.7,470.5 L299.0,470.9 L300.3,471.4 L301.6,471.0" stroke="#d41ad4"/>
</g>
<rect x="41.3" y="259.5" width="291.6" height="213.9" fill="none" stroke="#333" stroke-width="1.1"/>
<text x="33.8" y="476.4" text-anchor="end" font-size="8.4" fill="#2a2a2a" stroke="#2a2a2a">0.00</text>
<text x="33.8" y="461.6" text-anchor="end" font-size="8.4" fill="#2a2a2a" stroke="#2a2a2a">0.05</text>
<text x="33.8" y="446.9" text-anchor="end" font-size="8.4" fill="#2a2a2a" stroke="#2a2a2a">0.10</text>
<text x="33.8" y="432.1" text-anchor="end" font-size="8.4" fill="#2a2a2a" stroke="#2a2a2a">0.15</text>
<text x="33.8" y="417.4" text-anchor="end" font-size="8.4" fill="#2a2a2a" stroke="#2a2a2a">0.20</text>
<text x="33.8" y="402.6" text-anchor="end" font-size="8.4" fill="#2a2a2a" stroke="#2a2a2a">0.25</text>
<text x="33.8" y="387.9" text-anchor="end" font-size="8.4" fill="#2a2a2a" stroke="#2a2a2a">0.30</text>
<text x="33.8" y="373.1" text-anchor="end" font-size="8.4" fill="#2a2a2a" stroke="#2a2a2a">0.35</text>
<text x="33.8" y="358.4" text-anchor="end" font-size="8.4" fill="#2a2a2a" stroke="#2a2a2a">0.40</text>
<text x="33.8" y="343.6" text-anchor="end" font-size="8.4" fill="#2a2a2a" stroke="#2a2a2a">0.45</text>
<text x="33.8" y="328.8" text-anchor="end" font-size="8.4" fill="#2a2a2a" stroke="#2a2a2a">0.50</text>
<text x="33.8" y="314.1" text-anchor="end" font-size="8.4" fill="#2a2a2a" stroke="#2a2a2a">0.55</text>
<text x="33.8" y="299.3" text-anchor="end" font-size="8.4" fill="#2a2a2a" stroke="#2a2a2a">0.60</text>
<text x="33.8" y="284.6" text-anchor="end" font-size="8.4" fill="#2a2a2a" stroke="#2a2a2a">0.65</text>
<text x="33.8" y="269.8" text-anchor="end" font-size="8.4" fill="#2a2a2a" stroke="#2a2a2a">0.70</text>
<text x="41.3" y="487.6" text-anchor="middle" font-size="8.4" fill="#2a2a2a" stroke="#2a2a2a">200</text>
<text x="99.6" y="487.6" text-anchor="middle" font-size="8.4" fill="#2a2a2a" stroke="#2a2a2a">400</text>
<text x="157.9" y="487.6" text-anchor="middle" font-size="8.4" fill="#2a2a2a" stroke="#2a2a2a">600</text>
<text x="216.3" y="487.6" text-anchor="middle" font-size="8.4" fill="#2a2a2a" stroke="#2a2a2a">800</text>
<text x="274.6" y="487.6" text-anchor="middle" font-size="8.4" fill="#2a2a2a" stroke="#2a2a2a">1000</text>
<text x="332.9" y="487.6" text-anchor="middle" font-size="8.4" fill="#2a2a2a" stroke="#2a2a2a">1200</text>
<path d="M37.0,473.4 H41.3 M37.0,458.6 H41.3 M37.0,443.9 H41.3 M37.0,429.1 H41.3 M37.0,414.4 H41.3 M37.0,399.6 H41.3 M37.0,384.9 H41.3 M37.0,370.1 H41.3 M37.0,355.4 H41.3 M37.0,340.6 H41.3 M37.0,325.8 H41.3 M37.0,311.1 H41.3 M37.0,296.3 H41.3 M37.0,281.6 H41.3 M37.0,266.8 H41.3 M39.3,466.0 H41.3 M39.3,451.3 H41.3 M39.3,436.5 H41.3 M39.3,421.8 H41.3 M39.3,407.0 H41.3 M39.3,392.2 H41.3 M39.3,377.5 H41.3 M39.3,362.7 H41.3 M39.3,348.0 H41.3 M39.3,333.2 H41.3 M39.3,318.5 H41.3 M39.3,303.7 H41.3 M39.3,289.0 H41.3 M39.3,274.2 H41.3 M41.3,473.4 V477.2 M70.5,473.4 V475.7 M99.6,473.4 V477.2 M128.8,473.4 V475.7 M157.9,473.4 V477.2 M187.1,473.4 V475.7 M216.3,473.4 V477.2 M245.4,473.4 V475.7 M274.6,473.4 V477.2 M303.7,473.4 V475.7 M332.9,473.4 V477.2" stroke="#333" stroke-width="1.1" fill="none"/>
<text x="187.1" y="505.2" text-anchor="middle" font-size="10.7" fill="#2a2a2a" stroke="#2a2a2a">Wavelength (nm)</text>
<text transform="translate(9.2,373.8) rotate(-90)" text-anchor="middle" font-size="10.7" fill="#2a2a2a" stroke="#2a2a2a">Absorbance (a.u)</text>
<text transform="translate(297.9,279.0) scale(1,1.04)" font-size="17" fill="#111" stroke="#111">(B)</text>
<rect x="261.5" y="289.6" width="67.9" height="114.4" fill="#fff" stroke="#555" stroke-width="1"/>
<path d="M268.4,307.6 H295.3" stroke="#4a4a4a" stroke-width="2.1"/>
<text x="299.4" y="311.3" font-size="10.3" fill="#1a1a1a" stroke="#1a1a1a">0h</text>
<path d="M268.4,320.8 H295.3" stroke="#050505" stroke-width="2.1"/>
<text x="299.4" y="324.5" font-size="10.3" fill="#1a1a1a" stroke="#1a1a1a">1h</text>
<path d="M268.4,334.0 H295.3" stroke="#c81a1a" stroke-width="2.1"/>
<text x="299.4" y="337.7" font-size="10.3" fill="#1a1a1a" stroke="#1a1a1a">2h</text>
<path d="M268.4,347.2 H295.3" stroke="#2fe02f" stroke-width="2.1"/>
<text x="299.4" y="350.9" font-size="10.3" fill="#1a1a1a" stroke="#1a1a1a">3h</text>
<path d="M268.4,360.4 H295.3" stroke="#0a0ab4" stroke-width="2.1"/>
<text x="299.4" y="364.1" font-size="10.3" fill="#1a1a1a" stroke="#1a1a1a">24h</text>
<path d="M268.4,373.6 H295.3" stroke="#26e2de" stroke-width="2.1"/>
<text x="299.4" y="377.3" font-size="10.3" fill="#1a1a1a" stroke="#1a1a1a">48h</text>
<path d="M268.4,386.8 H295.3" stroke="#d41ad4" stroke-width="2.1"/>
<text x="299.4" y="390.5" font-size="10.3" fill="#1a1a1a" stroke="#1a1a1a">120h</text>
<clipPath id="clipD"><rect x="385.2" y="259.5" width="290.2" height="212.8"/></clipPath>
<g clip-path="url(#clipD)" fill="none" stroke-width="2.2" stroke-linejoin="round" stroke-linecap="round">
<path d="M385.2,466.6 L386.5,470.0 L388.0,462.0 L390.0,466.0 L392.0,466.0 L393.5,462.0 L395.0,458.0 L396.5,466.0 L398.0,468.0 L399.5,460.0 L401.0,458.0 L402.5,466.0 L404.0,467.0 L405.5,462.0 L407.0,460.0 L407.7,464.7 L409.0,440.0 L410.6,416.5" stroke="#4a4a4a"/>
<path d="M410.6,416.5 C411.3,418.2 413.2,423.8 414.6,426.5 C416.0,429.2 417.4,430.8 419.0,433.0 C420.6,435.2 422.6,437.5 424.4,439.5 C426.2,441.5 428.4,443.4 430.0,445.0 C431.6,446.6 433.1,447.8 434.3,449.3 C435.5,450.8 435.7,452.9 437.3,454.0 C438.9,455.1 439.8,455.2 444.2,456.2 C448.6,457.2 459.7,458.9 463.9,460.0 C468.1,461.1 466.9,461.7 469.4,462.8 C471.9,463.9 476.3,465.8 478.8,466.5 C481.3,467.2 481.5,466.5 484.6,467.0 C487.7,467.5 495.4,468.9 497.5,469.3" stroke="#4a4a4a"/>
<path d="M497.5,469.5 L498.7,469.1 L499.9,469.3 L501.1,469.5 L502.4,469.4 L503.6,469.7 L504.8,469.3 L506.0,469.8 L507.2,469.6 L508.4,469.4 L509.6,469.6 L510.8,469.4 L512.1,469.8 L513.3,469.6 L514.5,470.0 L515.7,469.8 L516.9,469.7 L518.1,469.7 L519.3,469.9 L520.6,469.7 L521.8,470.2 L523.0,469.8 L524.2,470.0 L525.4,470.1 L526.6,469.9 L527.8,470.3 L529.0,470.1 L530.3,470.3 L531.5,470.2 L532.7,470.1 L533.9,470.2 L535.1,470.1 L536.3,470.1 L537.5,470.6 L538.8,470.3 L540.0,470.5 L541.2,470.2 L542.4,470.5 L543.6,470.4 L544.8,470.6 L546.0,470.5 L547.2,470.4 L548.5,470.5 L549.7,470.5 L550.9,470.5 L552.1,470.9 L553.3,470.7 L554.5,470.8 L555.7,471.1 L556.9,471.1 L558.2,471.1 L559.4,471.2 L560.6,470.8 L561.8,470.9 L563.0,470.8 L564.2,471.2 L565.4,471.2 L566.7,471.1 L567.9,471.1 L569.1,471.3 L570.3,471.4 L571.5,471.1 L572.7,471.5 L573.9,471.2 L575.1,471.4 L576.4,471.2 L577.6,471.2 L578.8,471.7 L580.0,471.6 L581.2,471.6 L582.4,471.2 L583.6,471.2 L584.8,471.3 L586.0,471.3 L587.2,471.4 L588.5,471.4 L589.7,471.2 L590.9,471.4 L592.1,471.6 L593.3,471.3 L594.5,471.7 L595.7,471.5 L596.9,471.6 L598.1,471.4 L599.3,471.5 L600.5,471.6 L601.7,471.4 L602.9,471.2 L604.2,471.7 L605.4,471.7 L606.6,471.4 L607.8,471.2 L609.0,471.7 L610.2,471.6 L611.4,471.2 L612.6,471.3 L613.8,471.3 L615.0,471.7 L616.2,471.3 L617.4,471.7 L618.6,471.6 L619.8,471.3 L621.1,471.6 L622.3,471.4 L623.5,471.6 L624.7,471.7 L625.9,471.4 L627.1,471.3 L628.3,471.8 L629.5,471.5 L630.7,471.8 L631.9,471.6 L633.1,471.6 L634.3,471.7 L635.5,471.6 L636.8,471.5 L638.0,471.2 L639.2,471.6 L640.4,471.5 L641.6,471.5 L642.8,471.8 L644.0,471.5" stroke="#4a4a4a"/>
<path d="M385.2,418.0 L386.5,430.0 L388.0,433.0 L389.5,420.0 L391.0,416.0 L392.5,427.0 L394.0,420.0 L395.5,425.0 L397.0,418.0 L398.5,423.0 L400.0,419.0 L402.0,424.0 L404.0,417.0 L406.0,422.0 L408.0,418.0" stroke="#050505"/>
<path d="M408.0,418.0 C408.4,417.7 409.5,415.0 410.6,416.4 C411.7,417.8 413.2,423.5 414.6,426.2 C416.0,428.9 417.4,430.4 419.0,432.5 C420.6,434.6 422.6,437.0 424.4,439.0 C426.2,441.0 428.4,442.9 430.0,444.5 C431.6,446.1 433.1,447.3 434.3,448.9 C435.5,450.4 435.7,452.6 437.3,453.8 C438.9,455.0 439.8,454.8 444.2,455.8 C448.6,456.8 459.7,458.6 463.9,459.7 C468.1,460.8 466.9,461.4 469.4,462.5 C471.9,463.6 476.3,465.6 478.8,466.3 C481.3,467.0 481.5,466.1 484.6,466.6 C487.7,467.1 495.4,468.7 497.5,469.1" stroke="#050505"/>
<path d="M497.5,468.9 L498.7,469.3 L499.9,468.9 L501.1,469.3 L502.4,469.4 L503.6,469.1 L504.8,469.3 L506.0,469.6 L507.2,469.5 L508.4,469.4 L509.6,469.3 L510.8,469.2 L512.1,469.4 L513.3,469.5 L514.5,469.4 L515.7,469.5 L516.9,469.4 L518.1,469.8 L519.3,469.8 L520.6,469.6 L521.8,469.7 L523.0,469.9 L524.2,469.8 L525.4,470.2 L526.6,469.9 L527.8,469.9 L529.0,470.2 L530.3,469.8 L531.5,470.1 L532.7,470.0 L533.9,470.3 L535.1,470.2 L536.3,470.4 L537.5,470.1 L538.8,470.4 L540.0,470.4 L541.2,470.3 L542.4,470.6 L543.6,470.6 L544.8,470.2 L546.0,470.4 L547.2,470.5 L548.5,470.4 L549.7,470.4 L550.9,470.5 L552.1,470.5 L553.3,470.8 L554.5,470.7 L555.7,470.6 L556.9,470.7 L558.2,470.8 L559.4,470.8 L560.6,470.7 L561.8,470.7 L563.0,470.7 L564.2,471.3 L565.4,471.2 L566.7,470.9 L567.9,471.3 L569.1,471.5 L570.3,471.3 L571.5,471.0 L572.7,471.3 L573.9,471.3 L575.1,471.2 L576.4,471.4 L577.6,471.1 L578.8,471.7 L580.0,471.6 L581.2,471.6 L582.4,471.8 L583.6,471.6 L584.8,471.4 L586.0,471.3 L587.2,471.3 L588.5,471.2 L589.7,471.7 L590.9,471.7 L592.1,471.4 L593.3,471.3 L594.5,471.6 L595.7,471.7 L596.9,471.8 L598.1,471.3 L599.3,471.7 L600.5,471.7 L601.7,471.6 L602.9,471.4 L604.2,471.3 L605.4,471.7 L606.6,471.4 L607.8,471.4 L609.0,471.5 L610.2,471.4 L611.4,471.7 L612.6,471.3 L613.8,471.2 L615.0,471.5 L616.2,471.6 L617.4,471.7 L618.6,471.6 L619.8,471.7 L621.1,471.8 L622.3,471.5 L623.5,471.5 L624.7,471.3 L625.9,471.4 L627.1,471.5 L628.3,471.2 L629.5,471.6 L630.7,471.3 L631.9,471.5 L633.1,471.8 L634.3,471.3 L635.5,471.2 L636.8,471.5 L638.0,471.3 L639.2,471.6 L640.4,471.2 L641.6,471.7 L642.8,471.7 L644.0,471.5" stroke="#050505"/>
<path d="M385.2,425.0 L386.5,421.8 L388.0,430.0 L389.5,435.0 L391.0,424.0 L392.5,428.0 L394.0,433.0 L395.5,425.0 L397.0,431.0 L398.5,438.3 L400.0,428.0 L401.5,424.0 L403.0,430.0 L404.5,435.0 L406.0,426.0 L407.5,423.0 L409.0,421.0" stroke="#c81a1a"/>
<path d="M409.0,421.0 C409.3,420.4 409.7,416.6 410.6,417.3 C411.5,418.0 413.2,422.9 414.6,425.2 C416.0,427.5 417.4,429.0 419.0,431.0 C420.6,433.0 422.6,435.1 424.4,437.1 C426.2,439.1 428.0,441.0 430.0,443.0 C432.0,445.0 433.9,447.6 436.3,448.9 C438.7,450.2 441.2,450.3 444.2,450.9 C447.1,451.5 450.7,451.9 454.0,452.5 C457.3,453.1 461.3,453.7 463.9,454.8 C466.5,455.9 466.9,457.6 469.4,459.0 C471.9,460.4 476.3,462.5 478.8,463.5 C481.3,464.5 481.5,464.2 484.6,465.0 C487.7,465.8 495.4,467.6 497.5,468.1" stroke="#c81a1a"/>
<path d="M497.5,468.3 L498.7,468.1 L499.9,468.1 L501.1,468.3 L502.4,468.3 L503.6,468.3 L504.8,468.3 L506.0,468.4 L507.2,468.5 L508.4,468.7 L509.6,468.8 L510.8,468.4 L512.1,468.5 L513.3,468.6 L514.5,468.7 L515.7,468.6 L516.9,468.6 L518.1,468.6 L519.3,468.8 L520.6,468.9 L521.8,469.2 L523.0,469.2 L524.2,469.3 L525.4,469.4 L526.6,469.4 L527.8,469.2 L529.0,469.4 L530.3,469.0 L531.5,469.4 L532.7,469.4 L533.9,469.3 L535.1,469.5 L536.3,469.7 L537.5,469.5 L538.8,469.6 L540.0,469.5 L541.2,469.5 L542.4,469.9 L543.6,469.4 L544.8,469.6 L546.0,469.9 L547.2,469.8 L548.5,469.6 L549.7,470.0 L550.9,469.9 L552.1,470.1 L553.3,470.0 L554.5,470.1 L555.7,470.2 L556.9,470.1 L558.2,470.0 L559.4,470.1 L560.6,470.6 L561.8,470.4 L563.0,470.2 L564.2,470.7 L565.4,470.3 L566.7,470.3 L567.9,470.6 L569.1,470.5 L570.3,470.7 L571.5,470.7 L572.7,470.6 L573.9,470.8 L575.1,470.6 L576.4,470.9 L577.6,471.0 L578.8,470.7 L580.0,470.9 L581.2,470.7 L582.4,471.0 L583.6,471.2 L584.8,471.0 L586.0,471.1 L587.2,471.2 L588.5,470.8 L589.7,471.3 L590.9,471.1 L592.1,470.8 L593.3,471.2 L594.5,470.9 L595.7,470.8 L596.9,471.3 L598.1,471.0 L599.3,471.2 L600.5,470.8 L601.7,471.2 L602.9,470.7 L604.2,470.8 L605.4,470.9 L606.6,470.7 L607.8,471.1 L609.0,470.8 L610.2,470.9 L611.4,471.1 L612.6,471.0 L613.8,471.2 L615.0,471.1 L616.2,471.2 L617.4,471.0 L618.6,471.3 L619.8,471.2 L621.1,470.8 L622.3,471.1 L623.5,470.9 L624.7,471.2 L625.9,471.1 L627.1,471.2 L628.3,470.8 L629.5,470.9 L630.7,471.1 L631.9,471.3 L633.1,471.1 L634.3,470.7 L635.5,471.1 L636.8,470.8 L638.0,471.0 L639.2,471.2 L640.4,470.8 L641.6,471.3 L642.8,471.1 L644.0,471.0" stroke="#c81a1a"/>
<path d="M385.2,411.0 C386.0,410.3 388.4,408.3 390.0,407.0 C391.6,405.7 393.3,404.4 395.0,403.0 C396.7,401.6 398.3,400.1 400.0,398.5 C401.7,396.9 403.2,394.9 405.0,393.5 C406.8,392.1 408.8,390.9 410.6,390.0 C412.4,389.1 414.4,388.1 415.6,387.8 C416.8,387.6 417.2,387.9 418.0,388.5 C418.8,389.1 419.6,389.9 420.5,391.7 C421.4,393.5 422.4,395.9 423.3,399.5 C424.2,403.1 425.1,409.2 426.0,413.3 C426.9,417.4 427.7,421.6 428.8,424.3 C429.9,427.1 431.8,428.2 432.9,429.8 C434.0,431.4 435.1,432.3 435.7,434.0 C436.3,435.7 436.3,438.3 436.6,440.0 C436.9,441.7 436.2,443.3 437.5,444.0 C438.8,444.7 441.4,443.8 444.2,444.0 C446.9,444.2 451.4,444.4 454.0,445.0 C456.6,445.6 458.4,446.8 460.0,447.5 C461.6,448.2 462.3,448.1 463.9,449.0 C465.5,449.9 467.8,451.9 469.4,453.0 C471.0,454.1 472.2,454.4 473.8,455.5 C475.4,456.6 477.0,458.4 478.8,459.5 C480.6,460.6 481.5,460.9 484.6,462.0 C487.7,463.1 495.4,465.6 497.5,466.3" stroke="#2fe02f"/>
<path d="M497.5,466.2 L498.7,466.2 L499.9,466.5 L501.1,466.8 L502.4,466.7 L503.6,466.6 L504.8,466.6 L506.0,466.8 L507.2,467.3 L508.4,467.0 L509.6,467.3 L510.9,467.3 L512.1,467.6 L513.3,467.5 L514.5,467.5 L515.7,468.0 L516.9,467.9 L518.1,468.1 L519.4,468.3 L520.6,468.5 L521.8,468.0 L523.0,468.3 L524.2,468.3 L525.4,468.6 L526.6,468.9 L527.9,469.0 L529.1,468.6 L530.3,468.8 L531.5,469.3 L532.7,469.3 L533.9,469.2 L535.1,469.4 L536.4,469.3 L537.6,469.8 L538.8,469.6 L540.0,470.0 L541.2,469.9 L542.4,469.6 L543.6,469.7 L544.8,469.7 L546.0,470.1 L547.3,469.9 L548.5,469.6 L549.7,469.6 L550.9,469.8 L552.1,469.8 L553.3,469.9 L554.5,469.8 L555.7,469.8 L556.9,469.6 L558.1,469.9 L559.3,469.8 L560.6,469.6 L561.8,469.9 L563.0,470.2 L564.2,469.6 L565.4,469.7 L566.6,470.0 L567.8,469.8 L569.0,469.8 L570.2,469.9 L571.4,469.8 L572.7,470.0 L573.9,470.0 L575.1,470.2 L576.3,470.3 L577.5,469.7 L578.7,470.0 L579.9,470.2 L581.1,470.2 L582.3,470.2 L583.5,470.1 L584.7,470.1 L586.0,469.9 L587.2,469.9 L588.4,470.2 L589.6,470.3 L590.8,470.3 L592.0,470.2 L593.2,469.9 L594.4,470.2 L595.6,470.2 L596.8,470.1 L598.0,470.2 L599.3,470.0 L600.5,470.1 L601.7,470.0 L602.9,469.8 L604.1,470.0 L605.3,470.0 L606.5,470.4 L607.7,470.1 L608.9,470.1 L610.1,470.0 L611.3,470.0 L612.6,470.1 L613.8,469.9 L615.0,469.9 L616.2,470.4 L617.4,470.1 L618.6,470.1 L619.8,470.2 L621.0,470.1 L622.2,470.0 L623.4,469.9 L624.7,470.1 L625.9,470.1 L627.1,470.4 L628.3,470.3 L629.5,470.5 L630.7,470.1 L631.9,470.5 L633.1,470.3 L634.3,470.0 L635.5,470.1 L636.7,470.3 L638.0,470.6 L639.2,470.2 L640.4,470.4 L641.6,470.2 L642.8,470.5 L644.0,470.3" stroke="#2fe02f"/>
<path d="M385.2,452.0 L386.5,447.0 L388.0,455.0 L390.0,461.0 L392.0,463.0 L394.0,460.0 L396.0,462.0 L397.5,455.0 L398.5,449.0 L400.0,458.0 L401.5,461.0 L403.0,459.0 L404.5,462.0 L406.0,456.0 L407.7,452.0 L409.0,440.0 L410.6,409.4" stroke="#0a0ab4"/>
<path d="M410.6,409.4 C411.0,410.0 412.0,411.4 413.0,413.0 C414.0,414.6 415.5,417.3 416.6,419.3 C417.7,421.3 418.5,423.4 419.5,425.0 C420.5,426.6 421.5,429.0 422.5,429.2 C423.5,429.4 424.4,427.7 425.5,426.0 C426.6,424.3 427.6,421.6 428.8,418.8 C430.0,416.0 432.0,411.5 432.9,409.1 C433.8,406.7 433.9,405.5 434.3,404.5 C434.7,403.5 434.6,402.8 435.0,402.9 C435.4,403.0 435.9,405.6 436.4,405.0 C436.9,404.4 437.4,401.1 438.0,399.5 C438.6,397.9 439.1,396.7 439.8,395.3 C440.5,393.9 441.3,392.2 442.0,391.0 C442.7,389.8 443.0,388.8 444.0,387.8 C445.0,386.8 446.9,385.1 448.1,384.8 C449.3,384.5 450.0,385.2 451.0,386.0 C452.0,386.8 452.8,387.7 454.0,389.7 C455.2,391.7 456.4,394.1 458.0,398.0 C459.6,401.9 462.4,409.1 463.9,413.4 C465.4,417.7 465.8,420.2 467.0,424.0 C468.2,427.8 470.2,433.6 471.3,436.3 C472.4,439.1 472.6,438.3 473.8,440.5 C475.1,442.7 476.4,446.3 478.8,449.4 C481.2,452.4 485.0,456.5 488.1,458.8 C491.2,461.1 495.9,462.6 497.5,463.4" stroke="#0a0ab4"/>
<path d="M497.5,463.1 L498.8,463.6 L500.0,464.0 L501.3,463.8 L502.5,464.0 L503.8,464.1 L505.0,464.4 L506.3,464.6 L507.5,465.1 L508.8,465.0 L510.0,465.3 L511.3,465.3 L512.5,465.8 L513.8,466.1 L515.0,466.2 L516.3,466.1 L517.5,466.5 L518.7,466.7 L519.9,466.6 L521.1,466.3 L522.3,466.8 L523.5,466.9 L524.7,466.7 L525.9,466.6 L527.1,466.7 L528.3,467.0 L529.5,467.3 L530.7,467.2 L531.9,467.4 L533.1,467.1 L534.3,467.2 L535.5,467.5 L536.7,467.5 L537.9,467.4 L539.1,467.7 L540.3,467.5 L541.5,467.4 L542.7,467.7 L543.9,467.5 L545.1,468.0 L546.3,467.9 L547.5,468.0 L548.8,468.1 L550.0,468.0 L551.2,468.2 L552.4,468.0 L553.6,468.6 L554.8,468.5 L556.0,468.8 L557.2,468.3 L558.4,468.7 L559.6,468.8 L560.8,468.6 L562.0,468.6 L563.2,468.7 L564.4,468.7 L565.6,469.2 L566.8,468.8 L568.0,469.3 L569.2,469.2 L570.4,469.3 L571.6,469.4 L572.8,469.4 L574.0,469.6 L575.2,469.6 L576.4,469.5 L577.6,469.8 L578.8,469.6 L580.0,469.9 L581.2,470.0 L582.4,470.0 L583.6,469.7 L584.8,470.0 L586.0,470.1 L587.2,469.8 L588.4,469.7 L589.6,469.8 L590.8,470.1 L592.0,469.6 L593.2,469.5 L594.4,469.8 L595.6,469.9 L596.8,470.0 L598.0,469.7 L599.2,470.1 L600.4,469.6 L601.6,470.0 L602.8,469.6 L604.0,469.5 L605.2,469.6 L606.4,469.5 L607.6,469.8 L608.8,469.8 L610.0,469.6 L611.2,470.1 L612.4,469.7 L613.6,469.6 L614.8,469.6 L616.0,469.9 L617.2,470.1 L618.4,469.6 L619.6,469.5 L620.8,470.0 L622.0,469.6 L623.2,470.1 L624.4,469.8 L625.6,469.9 L626.8,469.7 L628.0,470.0 L629.2,469.8 L630.4,469.7 L631.6,470.0 L632.8,469.6 L634.0,469.9 L635.3,469.1 L636.7,469.0 L638.0,468.4 L639.5,468.3 L641.0,467.3 L642.5,468.1 L644.0,468.5" stroke="#0a0ab4"/>
<path d="M385.2,413.4 L387.0,410.0 L389.0,411.4 L391.0,416.0 L393.0,412.0 L394.9,417.3 L396.5,419.0 L398.8,423.3 L400.5,418.0 L401.8,419.3 L403.0,412.0 L404.7,407.5 L406.7,417.3 L408.5,410.0 L410.6,402.5" stroke="#26e2de"/>
<path d="M410.6,402.5 C410.9,403.0 412.0,403.9 412.6,405.5 C413.2,407.1 413.8,409.7 414.5,412.0 C415.2,414.3 415.8,417.1 416.6,419.3 C417.4,421.5 418.5,423.5 419.5,425.0 C420.5,426.5 421.6,428.0 422.5,428.2 C423.4,428.4 424.2,427.1 425.0,426.0 C425.8,424.9 426.7,423.2 427.4,421.3 C428.1,419.4 428.4,416.7 429.0,414.5 C429.6,412.3 430.4,410.1 431.0,408.0 C431.6,405.9 432.3,404.2 432.9,402.2 C433.4,400.2 433.9,397.6 434.3,396.0 C434.7,394.4 434.8,392.4 435.0,392.6 C435.2,392.8 435.4,397.1 435.7,397.0 C436.0,396.9 436.4,393.9 436.8,392.0 C437.2,390.1 437.7,387.8 438.4,385.7 C439.1,383.6 440.0,381.5 441.0,379.5 C442.0,377.5 443.2,375.4 444.2,373.9 C445.2,372.4 446.1,371.2 447.0,370.5 C447.9,369.8 448.7,369.3 449.6,369.4 C450.5,369.5 451.4,369.9 452.5,371.0 C453.6,372.1 454.8,373.4 456.0,375.9 C457.2,378.4 458.7,382.1 460.0,386.0 C461.3,389.9 462.8,395.3 463.9,399.6 C465.0,403.9 465.6,407.4 466.5,412.0 C467.4,416.6 468.2,422.9 469.4,426.9 C470.6,430.9 472.2,432.9 473.8,436.0 C475.4,439.1 477.1,442.9 478.8,445.6 C480.5,448.4 482.4,450.6 484.0,452.5 C485.6,454.4 485.9,455.2 488.1,456.9 C490.4,458.6 495.9,461.6 497.5,462.5" stroke="#26e2de"/>
<path d="M497.5,462.4 L498.8,463.0 L500.0,463.3 L501.3,463.3 L502.5,463.3 L503.8,463.6 L505.0,463.9 L506.3,464.2 L507.5,464.4 L508.8,464.6 L510.0,465.2 L511.3,465.4 L512.5,465.4 L513.8,466.1 L515.0,465.9 L516.3,466.3 L517.5,466.2 L518.7,466.6 L519.9,466.7 L521.1,466.4 L522.3,466.8 L523.5,466.9 L524.7,466.6 L525.9,466.7 L527.1,466.9 L528.3,467.2 L529.5,466.8 L530.7,467.2 L531.9,467.2 L533.1,467.1 L534.3,467.3 L535.5,467.5 L536.7,467.2 L537.9,467.7 L539.1,467.4 L540.3,467.7 L541.5,467.8 L542.7,467.5 L543.9,468.0 L545.1,468.1 L546.3,467.7 L547.5,467.6 L548.8,467.7 L550.0,468.3 L551.2,467.8 L552.4,468.4 L553.6,468.0 L554.8,468.4 L556.0,468.1 L557.2,468.2 L558.4,468.6 L559.6,468.3 L560.8,468.5 L562.0,468.9 L563.2,468.9 L564.4,469.0 L565.6,469.1 L566.8,468.6 L568.0,468.8 L569.2,469.2 L570.4,469.2 L571.6,468.9 L572.8,469.2 L574.0,469.1 L575.2,469.3 L576.4,469.2 L577.6,469.2 L578.8,469.8 L580.0,469.5 L581.2,469.8 L582.4,469.4 L583.6,469.6 L584.8,469.4 L586.0,469.5 L587.2,469.4 L588.5,469.7 L589.7,469.4 L590.9,469.7 L592.1,469.6 L593.3,469.3 L594.5,469.5 L595.7,469.5 L596.9,469.8 L598.1,469.5 L599.3,469.4 L600.5,469.8 L601.7,469.8 L602.9,469.7 L604.2,469.4 L605.4,469.3 L606.6,469.4 L607.8,469.3 L609.0,469.2 L610.2,469.5 L611.4,469.4 L612.6,469.5 L613.8,469.4 L615.0,469.2 L616.2,469.6 L617.4,469.6 L618.6,469.5 L619.8,469.5 L621.1,469.6 L622.3,469.8 L623.5,469.7 L624.7,469.6 L625.9,469.4 L627.1,469.3 L628.3,469.4 L629.5,469.7 L630.7,469.4 L631.9,469.4 L633.1,469.4 L634.3,469.2 L635.5,469.7 L636.8,469.1 L638.0,469.5 L639.2,469.7 L640.4,469.3 L641.6,469.5 L642.8,469.3 L644.0,469.4" stroke="#26e2de"/>
<path d="M385.2,410.4 C385.7,410.0 387.1,408.8 388.0,408.0 C388.9,407.2 390.1,406.2 390.9,405.5 C391.7,404.8 392.0,404.8 393.0,404.0 C394.0,403.2 395.8,401.4 396.8,400.6 C397.8,399.8 398.3,399.8 399.0,399.0 C399.7,398.2 400.1,397.1 401.0,396.0 C401.9,394.9 403.7,393.5 404.7,392.7 C405.7,391.9 406.0,391.7 407.0,391.0 C408.0,390.3 409.6,389.5 410.6,388.7 C411.6,387.9 412.2,386.8 413.0,386.0 C413.8,385.2 414.9,384.1 415.6,383.8 C416.4,383.5 416.9,383.5 417.5,384.0 C418.1,384.5 418.8,385.6 419.5,386.8 C420.2,388.1 421.1,389.8 422.0,391.5 C422.9,393.2 424.0,396.8 424.8,397.0 C425.6,397.2 426.1,394.8 426.7,393.0 C427.3,391.2 427.7,389.1 428.4,386.0 C429.1,382.9 430.2,378.3 430.9,374.6 C431.6,370.9 432.0,367.6 432.5,364.0 C433.0,360.4 433.6,355.7 434.0,353.3 C434.4,350.9 434.4,350.6 434.6,349.5 C434.8,348.4 434.7,347.8 435.1,346.8 C435.5,345.9 436.3,345.7 436.9,343.8 C437.5,341.9 438.0,338.3 438.6,335.5 C439.2,332.7 439.8,330.2 440.4,327.2 C441.0,324.2 441.6,320.7 442.2,317.5 C442.8,314.3 443.3,311.3 444.0,308.2 C444.7,305.1 445.5,301.8 446.3,299.0 C447.1,296.2 448.0,293.5 448.7,291.6 C449.4,289.7 450.0,288.5 450.7,287.5 C451.4,286.5 452.0,285.7 452.7,285.7 C453.4,285.7 454.1,286.5 454.8,287.5 C455.5,288.5 456.3,289.5 457.0,291.6 C457.7,293.7 458.2,296.8 458.8,300.0 C459.4,303.2 460.0,306.9 460.6,310.6 C461.2,314.3 461.8,318.4 462.4,322.3 C463.0,326.2 463.5,330.3 464.1,334.3 C464.7,338.3 465.3,342.2 465.9,346.2 C466.5,350.1 467.1,354.2 467.7,358.0 C468.3,361.8 468.9,365.4 469.5,369.0 C470.1,372.6 470.5,375.2 471.2,379.3 C471.9,383.4 472.7,389.2 473.6,393.6 C474.5,398.1 475.4,401.9 476.5,406.0 C477.6,410.1 478.7,414.0 480.0,418.0 C481.3,422.0 483.1,426.3 484.5,430.0 C485.9,433.7 486.9,437.2 488.1,440.0 C489.4,442.8 490.4,444.5 492.0,446.5 C493.6,448.5 495.0,450.1 497.5,452.2 C500.0,454.2 505.3,457.7 506.9,458.8" stroke="#d41ad4"/>
<path d="M506.9,458.5 L508.2,459.2 L509.6,459.7 L510.9,461.1 L512.3,461.7 L513.6,462.5 L515.0,462.3 L516.3,463.6 L517.5,463.5 L518.8,464.1 L520.0,464.2 L521.3,464.2 L522.5,465.1 L523.8,464.4 L525.0,465.4 L526.3,465.8 L527.5,465.7 L528.8,466.0 L530.0,466.7 L531.3,466.2 L532.5,466.8 L533.8,467.2 L535.0,467.1 L536.2,467.6 L537.5,467.4 L538.8,467.6 L540.0,467.9 L541.2,468.1 L542.5,467.9 L543.8,468.3 L545.0,468.4 L546.2,468.2 L547.5,468.7 L548.8,468.5 L550.0,469.3 L551.2,469.0 L552.5,469.4 L553.8,469.3 L555.0,469.4 L556.2,469.3 L557.5,469.4 L558.8,470.3 L560.0,470.0 L561.2,470.1 L562.5,470.1 L563.8,470.5 L565.0,469.9 L566.2,469.9 L567.5,470.6 L568.8,470.3 L570.0,470.5 L571.2,470.8 L572.5,470.9 L573.8,470.9 L575.0,470.1 L576.2,470.5 L577.5,471.0 L578.8,471.1 L580.0,470.4 L581.2,470.5 L582.4,470.6 L583.6,470.5 L584.8,470.7 L586.0,471.2 L587.2,470.9 L588.4,470.9 L589.6,470.5 L590.8,470.8 L592.0,471.5 L593.2,471.2 L594.4,470.9 L595.6,471.0 L596.8,471.3 L598.0,471.3 L599.2,470.7 L600.4,471.3 L601.6,471.0 L602.8,471.1 L604.0,470.9 L605.2,471.0 L606.4,471.0 L607.6,471.0 L608.8,470.7 L610.0,470.9 L611.2,471.3 L612.4,470.8 L613.6,470.9 L614.9,471.4 L616.1,471.0 L617.3,471.1 L618.5,471.0 L619.7,471.6 L620.9,470.9 L622.1,471.4 L623.4,471.6 L624.6,471.0 L625.8,471.2 L627.0,471.6 L628.2,471.4 L629.4,471.2 L630.6,470.9 L631.9,471.3 L633.1,471.2 L634.3,471.6 L635.5,471.1 L636.7,471.3 L637.9,471.5 L639.1,471.7 L640.4,471.2 L641.6,471.3 L642.8,471.5 L644.0,471.4" stroke="#d41ad4"/>
</g>
<rect x="385.2" y="259.5" width="290.2" height="212.8" fill="none" stroke="#333" stroke-width="1.1"/>
<text x="377.5" y="475.3" text-anchor="end" font-size="8.4" fill="#2a2a2a" stroke="#2a2a2a">0.0</text>
<text x="377.5" y="444.9" text-anchor="end" font-size="8.4" fill="#2a2a2a" stroke="#2a2a2a">0.2</text>
<text x="377.5" y="414.5" text-anchor="end" font-size="8.4" fill="#2a2a2a" stroke="#2a2a2a">0.4</text>
<text x="377.5" y="384.1" text-anchor="end" font-size="8.4" fill="#2a2a2a" stroke="#2a2a2a">0.6</text>
<text x="377.5" y="353.7" text-anchor="end" font-size="8.4" fill="#2a2a2a" stroke="#2a2a2a">0.8</text>
<text x="377.5" y="323.3" text-anchor="end" font-size="8.4" fill="#2a2a2a" stroke="#2a2a2a">1.0</text>
<text x="377.5" y="292.9" text-anchor="end" font-size="8.4" fill="#2a2a2a" stroke="#2a2a2a">1.2</text>
<text x="377.5" y="262.5" text-anchor="end" font-size="8.4" fill="#2a2a2a" stroke="#2a2a2a">1.4</text>
<text x="385.2" y="486.5" text-anchor="middle" font-size="8.4" fill="#2a2a2a" stroke="#2a2a2a">200</text>
<text x="443.2" y="486.5" text-anchor="middle" font-size="8.4" fill="#2a2a2a" stroke="#2a2a2a">400</text>
<text x="501.3" y="486.5" text-anchor="middle" font-size="8.4" fill="#2a2a2a" stroke="#2a2a2a">600</text>
<text x="559.3" y="486.5" text-anchor="middle" font-size="8.4" fill="#2a2a2a" stroke="#2a2a2a">800</text>
<text x="617.4" y="486.5" text-anchor="middle" font-size="8.4" fill="#2a2a2a" stroke="#2a2a2a">1000</text>
<text x="675.4" y="486.5" text-anchor="middle" font-size="8.4" fill="#2a2a2a" stroke="#2a2a2a">1200</text>
<path d="M380.9,472.3 H385.2 M380.9,441.9 H385.2 M380.9,411.5 H385.2 M380.9,381.1 H385.2 M380.9,350.7 H385.2 M380.9,320.3 H385.2 M380.9,289.9 H385.2 M380.9,259.5 H385.2 M383.2,457.1 H385.2 M383.2,426.7 H385.2 M383.2,396.3 H385.2 M383.2,365.9 H385.2 M383.2,335.5 H385.2 M383.2,305.1 H385.2 M383.2,274.7 H385.2 M385.2,472.3 V476.1 M414.2,472.3 V474.6 M443.2,472.3 V476.1 M472.3,472.3 V474.6 M501.3,472.3 V476.1 M530.3,472.3 V474.6 M559.3,472.3 V476.1 M588.3,472.3 V474.6 M617.4,472.3 V476.1 M646.4,472.3 V474.6 M675.4,472.3 V476.1" stroke="#333" stroke-width="1.1" fill="none"/>
<text x="530.3" y="504.2" text-anchor="middle" font-size="10.7" fill="#2a2a2a" stroke="#2a2a2a">Wavelength (nm)</text>
<text transform="translate(357.8,373.3) rotate(-90)" text-anchor="middle" font-size="10.7" fill="#2a2a2a" stroke="#2a2a2a">Absorbance (a.u)</text>
<text transform="translate(630.4,281.0) scale(1,1.04)" font-size="17" fill="#111" stroke="#111">(D)</text>
<rect x="598.4" y="300.6" width="67.0" height="115.1" fill="#fff" stroke="#555" stroke-width="1"/>
<path d="M605.1,318.8 H631.9" stroke="#4a4a4a" stroke-width="2.1"/>
<text x="636.1" y="322.5" font-size="10.3" fill="#1a1a1a" stroke="#1a1a1a">0h</text>
<path d="M605.1,331.8 H631.9" stroke="#050505" stroke-width="2.1"/>
<text x="636.1" y="335.5" font-size="10.3" fill="#1a1a1a" stroke="#1a1a1a">1h</text>
<path d="M605.1,344.8 H631.9" stroke="#c81a1a" stroke-width="2.1"/>
<text x="636.1" y="348.5" font-size="10.3" fill="#1a1a1a" stroke="#1a1a1a">2h</text>
<path d="M605.1,357.8 H631.9" stroke="#2fe02f" stroke-width="2.1"/>
<text x="636.1" y="361.5" font-size="10.3" fill="#1a1a1a" stroke="#1a1a1a">3h</text>
<path d="M605.1,370.8 H631.9" stroke="#0a0ab4" stroke-width="2.1"/>
<text x="636.1" y="374.5" font-size="10.3" fill="#1a1a1a" stroke="#1a1a1a">24h</text>
<path d="M605.1,383.8 H631.9" stroke="#26e2de" stroke-width="2.1"/>
<text x="636.1" y="387.5" font-size="10.3" fill="#1a1a1a" stroke="#1a1a1a">48h</text>
<path d="M605.1,396.8 H631.9" stroke="#d41ad4" stroke-width="2.1"/>
<text x="636.1" y="400.5" font-size="10.3" fill="#1a1a1a" stroke="#1a1a1a">120h</text>
</svg>
</body></html>
